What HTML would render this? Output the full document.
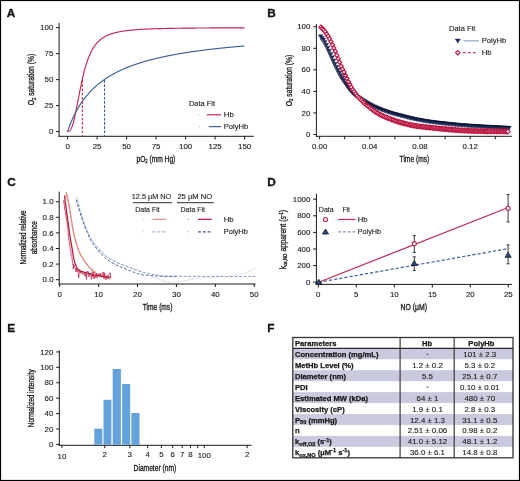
<!DOCTYPE html>
<html><head><meta charset="utf-8"><style>
html,body{margin:0;padding:0;background:#fff;}
svg{display:block;will-change:transform;}
text{font-family:"Liberation Sans",sans-serif;fill:#1a1a1a;stroke:#1a1a1a;stroke-width:0.12px;}
.at{stroke:#1a1a1a;stroke-width:0.32px;}
.tb{stroke:#111;stroke-width:0.25px;}
.tk{stroke:#1a1a1a;stroke-width:0.12px;}
</style></head><body>
<svg width="520" height="481" viewBox="0 0 520 481">
<rect x="0" y="0" width="520" height="481" fill="#fff"/>
<text x="6.80" y="16.60" font-size="11.8" text-anchor="start" font-weight="bold" fill="#000" style="stroke:#000;stroke-width:0.3px">A</text>
<text x="267.30" y="16.50" font-size="11.8" text-anchor="start" font-weight="bold" fill="#000" style="stroke:#000;stroke-width:0.3px">B</text>
<text x="7.30" y="185.80" font-size="11.8" text-anchor="start" font-weight="bold" fill="#000" style="stroke:#000;stroke-width:0.3px">C</text>
<text x="267.30" y="185.80" font-size="11.8" text-anchor="start" font-weight="bold" fill="#000" style="stroke:#000;stroke-width:0.3px">D</text>
<text x="7.30" y="331.80" font-size="11.8" text-anchor="start" font-weight="bold" fill="#000" style="stroke:#000;stroke-width:0.3px">E</text>
<text x="267.30" y="332.10" font-size="11.8" text-anchor="start" font-weight="bold" fill="#000" style="stroke:#000;stroke-width:0.3px">F</text>
<line x1="59.10" y1="22.90" x2="59.10" y2="136.80" stroke="#1a1a1a" stroke-width="1" />
<line x1="58.60" y1="136.30" x2="253.80" y2="136.30" stroke="#1a1a1a" stroke-width="1" />
<line x1="56.00" y1="131.60" x2="59.10" y2="131.60" stroke="#1a1a1a" stroke-width="1" />
<text x="53.40" y="134.20" font-size="7.9" text-anchor="end" class="tk">0</text>
<line x1="56.00" y1="105.60" x2="59.10" y2="105.60" stroke="#1a1a1a" stroke-width="1" />
<text x="53.40" y="108.20" font-size="7.9" text-anchor="end" class="tk">25</text>
<line x1="56.00" y1="79.60" x2="59.10" y2="79.60" stroke="#1a1a1a" stroke-width="1" />
<text x="53.40" y="82.20" font-size="7.9" text-anchor="end" class="tk">50</text>
<line x1="56.00" y1="53.60" x2="59.10" y2="53.60" stroke="#1a1a1a" stroke-width="1" />
<text x="53.40" y="56.20" font-size="7.9" text-anchor="end" class="tk">75</text>
<line x1="56.00" y1="27.60" x2="59.10" y2="27.60" stroke="#1a1a1a" stroke-width="1" />
<text x="53.40" y="30.20" font-size="7.9" text-anchor="end" class="tk">100</text>
<line x1="67.60" y1="136.30" x2="67.60" y2="139.50" stroke="#1a1a1a" stroke-width="1" />
<text x="67.60" y="149.20" font-size="7.9" text-anchor="middle" class="tk">0</text>
<line x1="97.10" y1="136.30" x2="97.10" y2="139.50" stroke="#1a1a1a" stroke-width="1" />
<text x="97.10" y="149.20" font-size="7.9" text-anchor="middle" class="tk">25</text>
<line x1="126.60" y1="136.30" x2="126.60" y2="139.50" stroke="#1a1a1a" stroke-width="1" />
<text x="126.60" y="149.20" font-size="7.9" text-anchor="middle" class="tk">50</text>
<line x1="156.10" y1="136.30" x2="156.10" y2="139.50" stroke="#1a1a1a" stroke-width="1" />
<text x="156.10" y="149.20" font-size="7.9" text-anchor="middle" class="tk">75</text>
<line x1="185.60" y1="136.30" x2="185.60" y2="139.50" stroke="#1a1a1a" stroke-width="1" />
<text x="185.60" y="149.20" font-size="7.9" text-anchor="middle" class="tk">100</text>
<line x1="215.10" y1="136.30" x2="215.10" y2="139.50" stroke="#1a1a1a" stroke-width="1" />
<text x="215.10" y="149.20" font-size="7.9" text-anchor="middle" class="tk">125</text>
<line x1="244.60" y1="136.30" x2="244.60" y2="139.50" stroke="#1a1a1a" stroke-width="1" />
<text x="244.60" y="149.20" font-size="7.9" text-anchor="middle" class="tk">150</text>
<path d="M67.60,131.60 L67.89,131.59 L68.19,131.57 L68.48,131.51 L68.78,131.41 L69.07,131.27 L69.37,131.08 L69.66,130.84 L69.96,130.54 L70.25,130.19 L70.55,129.76 L70.84,129.28 L71.14,128.73 L71.43,128.11 L71.73,127.43 L72.02,126.68 L72.32,125.86 L72.61,124.97 L72.91,124.03 L73.20,123.02 L73.50,121.95 L73.79,120.82 L74.09,119.64 L74.38,118.41 L74.68,117.13 L74.97,115.80 L75.27,114.44 L75.56,113.03 L75.86,111.60 L76.16,110.14 L76.45,108.65 L76.74,107.15 L77.04,105.63 L77.33,104.09 L77.63,102.55 L77.92,101.00 L78.22,99.45 L78.51,97.91 L78.81,96.37 L79.10,94.83 L79.40,93.31 L79.69,91.80 L79.99,90.30 L80.28,88.82 L80.58,87.36 L80.88,85.92 L81.17,84.50 L81.46,83.11 L81.76,81.74 L82.05,80.39 L82.35,79.08 L82.64,77.78 L82.94,76.52 L83.23,75.28 L83.53,74.07 L83.82,72.89 L84.12,71.74 L84.41,70.62 L84.71,69.52 L85.00,68.45 L85.30,67.41 L85.59,66.39 L85.89,65.41 L86.18,64.45 L86.48,63.51 L86.77,62.60 L87.07,61.72 L87.36,60.86 L87.66,60.02 L87.95,59.21 L88.25,58.42 L88.54,57.65 L88.84,56.91 L89.13,56.19 L89.43,55.48 L89.72,54.80 L90.02,54.14 L90.31,53.50 L90.61,52.87 L90.91,52.26 L91.20,51.68 L91.49,51.10 L91.79,50.55 L92.08,50.01 L92.38,49.48 L92.67,48.98 L92.97,48.48 L93.26,48.00 L93.56,47.54 L93.85,47.08 L94.15,46.64 L94.44,46.21 L94.74,45.80 L95.03,45.40 L95.33,45.00 L95.62,44.62 L95.92,44.25 L96.21,43.89 L96.51,43.54 L96.80,43.20 L97.10,42.87 L97.39,42.54 L97.69,42.23 L97.98,41.93 L98.28,41.63 L98.57,41.34 L98.87,41.06 L99.16,40.78 L99.46,40.52 L99.75,40.26 L100.05,40.01 L100.34,39.76 L100.64,39.52 L100.94,39.29 L101.23,39.06 L101.52,38.84 L101.82,38.62 L102.11,38.41 L102.41,38.21 L102.70,38.01 L103.00,37.81 L103.29,37.62 L103.59,37.44 L103.88,37.25 L104.18,37.08 L104.47,36.91 L104.77,36.74 L105.06,36.57 L105.36,36.41 L105.66,36.26 L105.95,36.10 L106.24,35.96 L106.54,35.81 L106.83,35.67 L107.13,35.53 L107.42,35.39 L107.72,35.26 L108.01,35.13 L108.31,35.00 L108.60,34.88 L108.90,34.76 L109.19,34.64 L109.49,34.53 L109.78,34.41 L110.08,34.30 L110.38,34.19 L110.67,34.09 L110.96,33.99 L111.26,33.88 L111.55,33.79 L111.85,33.69 L112.14,33.59 L112.44,33.50 L112.73,33.41 L113.03,33.32 L113.32,33.23 L113.62,33.15 L113.91,33.06 L114.21,32.98 L114.50,32.90 L114.80,32.82 L115.09,32.75 L115.39,32.67 L115.69,32.60 L115.98,32.52 L116.27,32.45 L116.57,32.38 L116.86,32.32 L117.16,32.25 L117.45,32.18 L117.75,32.12 L118.04,32.06 L118.34,31.99 L118.63,31.93 L118.93,31.87 L119.22,31.81 L119.52,31.76 L119.81,31.70 L120.11,31.64 L120.41,31.59 L120.70,31.54 L120.99,31.48 L121.29,31.43 L121.58,31.38 L121.88,31.33 L122.17,31.28 L122.47,31.24 L122.76,31.19 L123.06,31.14 L123.35,31.10 L123.65,31.05 L123.94,31.01 L124.24,30.97 L124.53,30.93 L124.83,30.88 L125.12,30.84 L125.42,30.80 L125.71,30.76 L126.01,30.72 L126.30,30.69 L126.60,30.65 L126.89,30.61 L127.19,30.58 L127.48,30.54 L127.78,30.51 L128.07,30.47 L128.37,30.44 L128.66,30.40 L128.96,30.37 L129.25,30.34 L129.55,30.31 L129.84,30.28 L130.14,30.24 L130.44,30.21 L130.73,30.18 L131.02,30.16 L131.32,30.13 L131.62,30.10 L131.91,30.07 L132.20,30.04 L132.50,30.02 L132.79,29.99 L133.09,29.96 L133.38,29.94 L133.68,29.91 L133.97,29.89 L134.27,29.86 L134.56,29.84 L134.86,29.81 L135.15,29.79 L135.45,29.77 L135.75,29.74 L136.04,29.72 L136.33,29.70 L136.63,29.68 L136.93,29.65 L137.22,29.63 L137.51,29.61 L137.81,29.59 L138.10,29.57 L138.40,29.55 L138.69,29.53 L138.99,29.51 L139.28,29.49 L139.58,29.47 L139.88,29.45 L140.17,29.44 L140.46,29.42 L140.76,29.40 L141.06,29.38 L141.35,29.36 L141.64,29.35 L141.94,29.33 L142.23,29.31 L142.53,29.30 L142.82,29.28 L143.12,29.26 L143.41,29.25 L143.71,29.23 L144.00,29.22 L144.30,29.20 L144.59,29.19 L144.89,29.17 L145.19,29.16 L145.48,29.14 L145.77,29.13 L146.07,29.11 L146.37,29.10 L146.66,29.09 L146.95,29.07 L147.25,29.06 L147.54,29.04 L147.84,29.03 L148.13,29.02 L148.43,29.01 L148.72,28.99 L149.02,28.98 L149.31,28.97 L149.61,28.96 L149.90,28.94 L150.20,28.93 L150.50,28.92 L150.79,28.91 L151.08,28.90 L151.38,28.89 L151.67,28.88 L151.97,28.86 L152.26,28.85 L152.56,28.84 L152.85,28.83 L153.15,28.82 L153.44,28.81 L153.74,28.80 L154.03,28.79 L154.33,28.78 L154.62,28.77 L154.92,28.76 L155.21,28.75 L155.51,28.74 L155.81,28.73 L156.10,28.72 L156.39,28.71 L156.69,28.70 L156.98,28.70 L157.28,28.69 L157.57,28.68 L157.87,28.67 L158.16,28.66 L158.46,28.65 L158.75,28.64 L159.05,28.64 L159.34,28.63 L159.64,28.62 L159.94,28.61 L160.23,28.60 L160.52,28.59 L160.82,28.59 L161.12,28.58 L161.41,28.57 L161.70,28.56 L162.00,28.56 L162.29,28.55 L162.59,28.54 L162.88,28.53 L163.18,28.53 L163.47,28.52 L163.77,28.51 L164.06,28.51 L164.36,28.50 L164.65,28.49 L164.95,28.49 L165.25,28.48 L165.54,28.47 L165.83,28.47 L166.13,28.46 L166.42,28.45 L166.72,28.45 L167.01,28.44 L167.31,28.43 L167.60,28.43 L167.90,28.42 L168.19,28.42 L168.49,28.41 L168.78,28.40 L169.08,28.40 L169.38,28.39 L169.67,28.39 L169.96,28.38 L170.26,28.38 L170.56,28.37 L170.85,28.37 L171.14,28.36 L171.44,28.35 L171.73,28.35 L172.03,28.34 L172.32,28.34 L172.62,28.33 L172.91,28.33 L173.21,28.32 L173.50,28.32 L173.80,28.31 L174.09,28.31 L174.39,28.30 L174.69,28.30 L174.98,28.29 L175.27,28.29 L175.57,28.28 L175.87,28.28 L176.16,28.28 L176.45,28.27 L176.75,28.27 L177.04,28.26 L177.34,28.26 L177.63,28.25 L177.93,28.25 L178.22,28.24 L178.52,28.24 L178.81,28.24 L179.11,28.23 L179.40,28.23 L179.70,28.22 L180.00,28.22 L180.29,28.22 L180.58,28.21 L180.88,28.21 L181.17,28.20 L181.47,28.20 L181.76,28.20 L182.06,28.19 L182.35,28.19 L182.65,28.18 L182.94,28.18 L183.24,28.18 L183.53,28.17 L183.83,28.17 L184.12,28.17 L184.42,28.16 L184.71,28.16 L185.01,28.16 L185.31,28.15 L185.60,28.15 L185.89,28.15 L186.19,28.14 L186.48,28.14 L186.78,28.14 L187.07,28.13 L187.37,28.13 L187.66,28.13 L187.96,28.12 L188.25,28.12 L188.55,28.12 L188.84,28.11 L189.14,28.11 L189.44,28.11 L189.73,28.10 L190.02,28.10 L190.32,28.10 L190.62,28.09 L190.91,28.09 L191.20,28.09 L191.50,28.09 L191.79,28.08 L192.09,28.08 L192.38,28.08 L192.68,28.07 L192.97,28.07 L193.27,28.07 L193.56,28.07 L193.86,28.06 L194.15,28.06 L194.45,28.06 L194.75,28.06 L195.04,28.05 L195.33,28.05 L195.63,28.05 L195.92,28.04 L196.22,28.04 L196.51,28.04 L196.81,28.04 L197.10,28.03 L197.40,28.03 L197.69,28.03 L197.99,28.03 L198.28,28.03 L198.58,28.02 L198.88,28.02 L199.17,28.02 L199.46,28.02 L199.76,28.01 L200.05,28.01 L200.35,28.01 L200.64,28.01 L200.94,28.00 L201.23,28.00 L201.53,28.00 L201.82,28.00 L202.12,28.00 L202.41,27.99 L202.71,27.99 L203.00,27.99 L203.30,27.99 L203.59,27.98 L203.89,27.98 L204.18,27.98 L204.48,27.98 L204.77,27.98 L205.07,27.97 L205.36,27.97 L205.66,27.97 L205.95,27.97 L206.25,27.97 L206.54,27.96 L206.84,27.96 L207.13,27.96 L207.43,27.96 L207.72,27.96 L208.02,27.96 L208.31,27.95 L208.61,27.95 L208.90,27.95 L209.20,27.95 L209.49,27.95 L209.79,27.94 L210.08,27.94 L210.38,27.94 L210.67,27.94 L210.97,27.94 L211.26,27.94 L211.56,27.93 L211.85,27.93 L212.15,27.93 L212.44,27.93 L212.74,27.93 L213.03,27.93 L213.33,27.92 L213.62,27.92 L213.92,27.92 L214.21,27.92 L214.51,27.92 L214.80,27.92 L215.10,27.91 L215.39,27.91 L215.69,27.91 L215.98,27.91 L216.28,27.91 L216.57,27.91 L216.87,27.90 L217.16,27.90 L217.46,27.90 L217.75,27.90 L218.05,27.90 L218.34,27.90 L218.64,27.90 L218.93,27.89 L219.23,27.89 L219.52,27.89 L219.82,27.89 L220.11,27.89 L220.41,27.89 L220.70,27.89 L221.00,27.88 L221.29,27.88 L221.59,27.88 L221.88,27.88 L222.18,27.88 L222.47,27.88 L222.77,27.88 L223.06,27.88 L223.36,27.87 L223.65,27.87 L223.95,27.87 L224.24,27.87 L224.54,27.87 L224.83,27.87 L225.13,27.87 L225.42,27.87 L225.72,27.86 L226.01,27.86 L226.31,27.86 L226.60,27.86 L226.90,27.86 L227.19,27.86 L227.49,27.86 L227.78,27.86 L228.08,27.85 L228.38,27.85 L228.67,27.85 L228.96,27.85 L229.26,27.85 L229.55,27.85 L229.85,27.85 L230.14,27.85 L230.44,27.85 L230.73,27.84 L231.03,27.84 L231.32,27.84 L231.62,27.84 L231.91,27.84 L232.21,27.84 L232.50,27.84 L232.80,27.84 L233.09,27.84 L233.39,27.83 L233.68,27.83 L233.98,27.83 L234.27,27.83 L234.57,27.83 L234.86,27.83 L235.16,27.83 L235.45,27.83 L235.75,27.83 L236.04,27.83 L236.34,27.82 L236.63,27.82 L236.93,27.82 L237.22,27.82 L237.52,27.82 L237.81,27.82 L238.11,27.82 L238.40,27.82 L238.70,27.82 L238.99,27.82 L239.29,27.81 L239.58,27.81 L239.88,27.81 L240.17,27.81 L240.47,27.81 L240.76,27.81 L241.06,27.81 L241.35,27.81 L241.65,27.81 L241.94,27.81 L242.24,27.81 L242.53,27.80 L242.83,27.80 L243.12,27.80 L243.42,27.80 L243.71,27.80 L244.01,27.80 L244.30,27.80 L244.60,27.80" stroke="#c0284e" stroke-width="1.15" fill="none" />
<path d="M67.60,131.60 L67.89,130.69 L68.19,129.82 L68.48,128.97 L68.78,128.14 L69.07,127.33 L69.37,126.53 L69.66,125.75 L69.96,124.98 L70.25,124.23 L70.55,123.49 L70.84,122.77 L71.14,122.05 L71.43,121.35 L71.73,120.66 L72.02,119.98 L72.32,119.31 L72.61,118.65 L72.91,118.00 L73.20,117.36 L73.50,116.74 L73.79,116.12 L74.09,115.51 L74.38,114.90 L74.68,114.31 L74.97,113.73 L75.27,113.15 L75.56,112.58 L75.86,112.02 L76.16,111.47 L76.45,110.93 L76.74,110.39 L77.04,109.86 L77.33,109.33 L77.63,108.82 L77.92,108.31 L78.22,107.81 L78.51,107.31 L78.81,106.82 L79.10,106.34 L79.40,105.86 L79.69,105.39 L79.99,104.92 L80.28,104.46 L80.58,104.01 L80.88,103.56 L81.17,103.12 L81.46,102.68 L81.76,102.24 L82.05,101.82 L82.35,101.39 L82.64,100.98 L82.94,100.56 L83.23,100.16 L83.53,99.75 L83.82,99.35 L84.12,98.96 L84.41,98.57 L84.71,98.18 L85.00,97.80 L85.30,97.43 L85.59,97.05 L85.89,96.69 L86.18,96.32 L86.48,95.96 L86.77,95.60 L87.07,95.25 L87.36,94.90 L87.66,94.56 L87.95,94.21 L88.25,93.88 L88.54,93.54 L88.84,93.21 L89.13,92.88 L89.43,92.56 L89.72,92.24 L90.02,91.92 L90.31,91.60 L90.61,91.29 L90.91,90.98 L91.20,90.68 L91.49,90.37 L91.79,90.07 L92.08,89.78 L92.38,89.48 L92.67,89.19 L92.97,88.90 L93.26,88.62 L93.56,88.34 L93.85,88.06 L94.15,87.78 L94.44,87.50 L94.74,87.23 L95.03,86.96 L95.33,86.70 L95.62,86.43 L95.92,86.17 L96.21,85.91 L96.51,85.65 L96.80,85.40 L97.10,85.14 L97.39,84.89 L97.69,84.64 L97.98,84.40 L98.28,84.15 L98.57,83.91 L98.87,83.67 L99.16,83.43 L99.46,83.20 L99.75,82.96 L100.05,82.73 L100.34,82.50 L100.64,82.27 L100.94,82.05 L101.23,81.82 L101.52,81.60 L101.82,81.38 L102.11,81.16 L102.41,80.95 L102.70,80.73 L103.00,80.52 L103.29,80.31 L103.59,80.10 L103.88,79.89 L104.18,79.68 L104.47,79.48 L104.77,79.27 L105.06,79.07 L105.36,78.87 L105.66,78.67 L105.95,78.48 L106.24,78.28 L106.54,78.09 L106.83,77.90 L107.13,77.71 L107.42,77.52 L107.72,77.33 L108.01,77.14 L108.31,76.96 L108.60,76.78 L108.90,76.59 L109.19,76.41 L109.49,76.23 L109.78,76.06 L110.08,75.88 L110.38,75.70 L110.67,75.53 L110.96,75.36 L111.26,75.18 L111.55,75.01 L111.85,74.85 L112.14,74.68 L112.44,74.51 L112.73,74.35 L113.03,74.18 L113.32,74.02 L113.62,73.86 L113.91,73.70 L114.21,73.54 L114.50,73.38 L114.80,73.22 L115.09,73.06 L115.39,72.91 L115.69,72.75 L115.98,72.60 L116.27,72.45 L116.57,72.30 L116.86,72.15 L117.16,72.00 L117.45,71.85 L117.75,71.70 L118.04,71.56 L118.34,71.41 L118.63,71.27 L118.93,71.13 L119.22,70.98 L119.52,70.84 L119.81,70.70 L120.11,70.56 L120.41,70.43 L120.70,70.29 L120.99,70.15 L121.29,70.02 L121.58,69.88 L121.88,69.75 L122.17,69.61 L122.47,69.48 L122.76,69.35 L123.06,69.22 L123.35,69.09 L123.65,68.96 L123.94,68.83 L124.24,68.71 L124.53,68.58 L124.83,68.45 L125.12,68.33 L125.42,68.20 L125.71,68.08 L126.01,67.96 L126.30,67.84 L126.60,67.72 L126.89,67.60 L127.19,67.48 L127.48,67.36 L127.78,67.24 L128.07,67.12 L128.37,67.00 L128.66,66.89 L128.96,66.77 L129.25,66.66 L129.55,66.54 L129.84,66.43 L130.14,66.32 L130.44,66.21 L130.73,66.09 L131.02,65.98 L131.32,65.87 L131.62,65.76 L131.91,65.66 L132.20,65.55 L132.50,65.44 L132.79,65.33 L133.09,65.23 L133.38,65.12 L133.68,65.02 L133.97,64.91 L134.27,64.81 L134.56,64.70 L134.86,64.60 L135.15,64.50 L135.45,64.40 L135.75,64.30 L136.04,64.20 L136.33,64.10 L136.63,64.00 L136.93,63.90 L137.22,63.80 L137.51,63.70 L137.81,63.60 L138.10,63.51 L138.40,63.41 L138.69,63.32 L138.99,63.22 L139.28,63.13 L139.58,63.03 L139.88,62.94 L140.17,62.85 L140.46,62.75 L140.76,62.66 L141.06,62.57 L141.35,62.48 L141.64,62.39 L141.94,62.30 L142.23,62.21 L142.53,62.12 L142.82,62.03 L143.12,61.94 L143.41,61.85 L143.71,61.77 L144.00,61.68 L144.30,61.59 L144.59,61.51 L144.89,61.42 L145.19,61.34 L145.48,61.25 L145.77,61.17 L146.07,61.08 L146.37,61.00 L146.66,60.92 L146.95,60.83 L147.25,60.75 L147.54,60.67 L147.84,60.59 L148.13,60.51 L148.43,60.43 L148.72,60.35 L149.02,60.27 L149.31,60.19 L149.61,60.11 L149.90,60.03 L150.20,59.95 L150.50,59.87 L150.79,59.80 L151.08,59.72 L151.38,59.64 L151.67,59.57 L151.97,59.49 L152.26,59.42 L152.56,59.34 L152.85,59.27 L153.15,59.19 L153.44,59.12 L153.74,59.04 L154.03,58.97 L154.33,58.90 L154.62,58.82 L154.92,58.75 L155.21,58.68 L155.51,58.61 L155.81,58.54 L156.10,58.47 L156.39,58.39 L156.69,58.32 L156.98,58.25 L157.28,58.18 L157.57,58.11 L157.87,58.05 L158.16,57.98 L158.46,57.91 L158.75,57.84 L159.05,57.77 L159.34,57.70 L159.64,57.64 L159.94,57.57 L160.23,57.50 L160.52,57.44 L160.82,57.37 L161.12,57.31 L161.41,57.24 L161.70,57.18 L162.00,57.11 L162.29,57.05 L162.59,56.98 L162.88,56.92 L163.18,56.85 L163.47,56.79 L163.77,56.73 L164.06,56.66 L164.36,56.60 L164.65,56.54 L164.95,56.48 L165.25,56.42 L165.54,56.35 L165.83,56.29 L166.13,56.23 L166.42,56.17 L166.72,56.11 L167.01,56.05 L167.31,55.99 L167.60,55.93 L167.90,55.87 L168.19,55.81 L168.49,55.75 L168.78,55.69 L169.08,55.64 L169.38,55.58 L169.67,55.52 L169.96,55.46 L170.26,55.40 L170.56,55.35 L170.85,55.29 L171.14,55.23 L171.44,55.18 L171.73,55.12 L172.03,55.06 L172.32,55.01 L172.62,54.95 L172.91,54.90 L173.21,54.84 L173.50,54.79 L173.80,54.73 L174.09,54.68 L174.39,54.62 L174.69,54.57 L174.98,54.52 L175.27,54.46 L175.57,54.41 L175.87,54.36 L176.16,54.30 L176.45,54.25 L176.75,54.20 L177.04,54.15 L177.34,54.09 L177.63,54.04 L177.93,53.99 L178.22,53.94 L178.52,53.89 L178.81,53.84 L179.11,53.78 L179.40,53.73 L179.70,53.68 L180.00,53.63 L180.29,53.58 L180.58,53.53 L180.88,53.48 L181.17,53.43 L181.47,53.38 L181.76,53.34 L182.06,53.29 L182.35,53.24 L182.65,53.19 L182.94,53.14 L183.24,53.09 L183.53,53.04 L183.83,53.00 L184.12,52.95 L184.42,52.90 L184.71,52.85 L185.01,52.81 L185.31,52.76 L185.60,52.71 L185.89,52.67 L186.19,52.62 L186.48,52.57 L186.78,52.53 L187.07,52.48 L187.37,52.44 L187.66,52.39 L187.96,52.35 L188.25,52.30 L188.55,52.26 L188.84,52.21 L189.14,52.17 L189.44,52.12 L189.73,52.08 L190.02,52.03 L190.32,51.99 L190.62,51.94 L190.91,51.90 L191.20,51.86 L191.50,51.81 L191.79,51.77 L192.09,51.73 L192.38,51.68 L192.68,51.64 L192.97,51.60 L193.27,51.56 L193.56,51.51 L193.86,51.47 L194.15,51.43 L194.45,51.39 L194.75,51.35 L195.04,51.30 L195.33,51.26 L195.63,51.22 L195.92,51.18 L196.22,51.14 L196.51,51.10 L196.81,51.06 L197.10,51.02 L197.40,50.98 L197.69,50.94 L197.99,50.90 L198.28,50.86 L198.58,50.82 L198.88,50.78 L199.17,50.74 L199.46,50.70 L199.76,50.66 L200.05,50.62 L200.35,50.58 L200.64,50.54 L200.94,50.50 L201.23,50.46 L201.53,50.43 L201.82,50.39 L202.12,50.35 L202.41,50.31 L202.71,50.27 L203.00,50.24 L203.30,50.20 L203.59,50.16 L203.89,50.12 L204.18,50.08 L204.48,50.05 L204.77,50.01 L205.07,49.97 L205.36,49.94 L205.66,49.90 L205.95,49.86 L206.25,49.83 L206.54,49.79 L206.84,49.75 L207.13,49.72 L207.43,49.68 L207.72,49.65 L208.02,49.61 L208.31,49.57 L208.61,49.54 L208.90,49.50 L209.20,49.47 L209.49,49.43 L209.79,49.40 L210.08,49.36 L210.38,49.33 L210.67,49.29 L210.97,49.26 L211.26,49.22 L211.56,49.19 L211.85,49.16 L212.15,49.12 L212.44,49.09 L212.74,49.05 L213.03,49.02 L213.33,48.99 L213.62,48.95 L213.92,48.92 L214.21,48.89 L214.51,48.85 L214.80,48.82 L215.10,48.79 L215.39,48.75 L215.69,48.72 L215.98,48.69 L216.28,48.65 L216.57,48.62 L216.87,48.59 L217.16,48.56 L217.46,48.52 L217.75,48.49 L218.05,48.46 L218.34,48.43 L218.64,48.40 L218.93,48.36 L219.23,48.33 L219.52,48.30 L219.82,48.27 L220.11,48.24 L220.41,48.21 L220.70,48.18 L221.00,48.14 L221.29,48.11 L221.59,48.08 L221.88,48.05 L222.18,48.02 L222.47,47.99 L222.77,47.96 L223.06,47.93 L223.36,47.90 L223.65,47.87 L223.95,47.84 L224.24,47.81 L224.54,47.78 L224.83,47.75 L225.13,47.72 L225.42,47.69 L225.72,47.66 L226.01,47.63 L226.31,47.60 L226.60,47.57 L226.90,47.54 L227.19,47.51 L227.49,47.48 L227.78,47.45 L228.08,47.43 L228.38,47.40 L228.67,47.37 L228.96,47.34 L229.26,47.31 L229.55,47.28 L229.85,47.25 L230.14,47.22 L230.44,47.20 L230.73,47.17 L231.03,47.14 L231.32,47.11 L231.62,47.08 L231.91,47.06 L232.21,47.03 L232.50,47.00 L232.80,46.97 L233.09,46.95 L233.39,46.92 L233.68,46.89 L233.98,46.86 L234.27,46.84 L234.57,46.81 L234.86,46.78 L235.16,46.76 L235.45,46.73 L235.75,46.70 L236.04,46.67 L236.34,46.65 L236.63,46.62 L236.93,46.59 L237.22,46.57 L237.52,46.54 L237.81,46.52 L238.11,46.49 L238.40,46.46 L238.70,46.44 L238.99,46.41 L239.29,46.39 L239.58,46.36 L239.88,46.33 L240.17,46.31 L240.47,46.28 L240.76,46.26 L241.06,46.23 L241.35,46.21 L241.65,46.18 L241.94,46.15 L242.24,46.13 L242.53,46.10 L242.83,46.08 L243.12,46.05 L243.42,46.03 L243.71,46.00 L244.01,45.98 L244.30,45.95 L244.60,45.93" stroke="#3b5d9a" stroke-width="1.15" fill="none" />
<line x1="82.35" y1="80.10" x2="82.35" y2="135.80" stroke="#c0284e" stroke-width="1.1" stroke-dasharray="2.6,1.6"/>
<line x1="104.53" y1="80.10" x2="104.53" y2="135.80" stroke="#3b5d9a" stroke-width="1.1" stroke-dasharray="2.6,1.6"/>
<text x="189.00" y="105.80" font-size="7.9" text-anchor="start" textLength="26" lengthAdjust="spacingAndGlyphs" >Data Fit</text>
<circle cx="199.6" cy="114.8" r="0.55" fill="#e8a0b0"/>
<line x1="206.90" y1="114.80" x2="221.00" y2="114.80" stroke="#c0284e" stroke-width="1.2" />
<text x="223.80" y="117.00" font-size="7.9" text-anchor="start" textLength="10" lengthAdjust="spacingAndGlyphs" >Hb</text>
<circle cx="199.6" cy="126.6" r="0.55" fill="#7f95c0"/>
<line x1="208.90" y1="126.60" x2="221.00" y2="126.60" stroke="#3b5d9a" stroke-width="1.2" />
<text x="223.80" y="128.80" font-size="7.9" text-anchor="start" textLength="24.4" lengthAdjust="spacingAndGlyphs" >PolyHb</text>
<text class="at" x="136.5" y="161.6" font-size="8.8" textLength="38.8" lengthAdjust="spacingAndGlyphs" fill="#1a1a1a">pO<tspan font-size="5.6" dy="1.6">2</tspan><tspan dy="-1.6"> (mm Hg)</tspan></text>
<text class="at" x="0" y="0" font-size="8.8" fill="#1a1a1a" textLength="51.5" lengthAdjust="spacingAndGlyphs" transform="translate(34.3,105.3) rotate(-90)">O<tspan font-size="5.6" dy="1.6">2</tspan><tspan dy="-1.6"> saturation (%)</tspan></text>
<line x1="316.40" y1="24.00" x2="316.40" y2="136.80" stroke="#1a1a1a" stroke-width="1" />
<line x1="315.90" y1="136.30" x2="511.80" y2="136.30" stroke="#1a1a1a" stroke-width="1" />
<line x1="313.30" y1="134.50" x2="316.40" y2="134.50" stroke="#1a1a1a" stroke-width="1" />
<text x="310.40" y="137.10" font-size="7.9" text-anchor="end" class="tk">0</text>
<line x1="313.30" y1="112.95" x2="316.40" y2="112.95" stroke="#1a1a1a" stroke-width="1" />
<text x="310.40" y="115.55" font-size="7.9" text-anchor="end" class="tk">20</text>
<line x1="313.30" y1="91.40" x2="316.40" y2="91.40" stroke="#1a1a1a" stroke-width="1" />
<text x="310.40" y="94.00" font-size="7.9" text-anchor="end" class="tk">40</text>
<line x1="313.30" y1="69.85" x2="316.40" y2="69.85" stroke="#1a1a1a" stroke-width="1" />
<text x="310.40" y="72.45" font-size="7.9" text-anchor="end" class="tk">60</text>
<line x1="313.30" y1="48.30" x2="316.40" y2="48.30" stroke="#1a1a1a" stroke-width="1" />
<text x="310.40" y="50.90" font-size="7.9" text-anchor="end" class="tk">80</text>
<line x1="313.30" y1="26.75" x2="316.40" y2="26.75" stroke="#1a1a1a" stroke-width="1" />
<text x="310.40" y="29.35" font-size="7.9" text-anchor="end" class="tk">100</text>
<line x1="319.60" y1="136.30" x2="319.60" y2="139.30" stroke="#1a1a1a" stroke-width="1" />
<text x="319.60" y="149.20" font-size="7.9" text-anchor="middle" class="tk">0.00</text>
<line x1="344.70" y1="136.30" x2="344.70" y2="139.30" stroke="#1a1a1a" stroke-width="1" />
<line x1="369.80" y1="136.30" x2="369.80" y2="139.30" stroke="#1a1a1a" stroke-width="1" />
<text x="369.80" y="149.20" font-size="7.9" text-anchor="middle" class="tk">0.04</text>
<line x1="394.90" y1="136.30" x2="394.90" y2="139.30" stroke="#1a1a1a" stroke-width="1" />
<line x1="420.00" y1="136.30" x2="420.00" y2="139.30" stroke="#1a1a1a" stroke-width="1" />
<text x="420.00" y="149.20" font-size="7.9" text-anchor="middle" class="tk">0.08</text>
<line x1="445.10" y1="136.30" x2="445.10" y2="139.30" stroke="#1a1a1a" stroke-width="1" />
<line x1="470.20" y1="136.30" x2="470.20" y2="139.30" stroke="#1a1a1a" stroke-width="1" />
<text x="470.20" y="149.20" font-size="7.9" text-anchor="middle" class="tk">0.12</text>
<line x1="495.30" y1="136.30" x2="495.30" y2="139.30" stroke="#1a1a1a" stroke-width="1" />
<text x="399.60" y="162.00" font-size="8.7" text-anchor="start" textLength="29.6" lengthAdjust="spacingAndGlyphs" class="at">Time (ms)</text>
<text class="at" x="0" y="0" font-size="8.8" fill="#1a1a1a" textLength="51.5" lengthAdjust="spacingAndGlyphs" transform="translate(291.6,106.2) rotate(-90)">O<tspan font-size="5.6" dy="1.6">2</tspan><tspan dy="-1.6"> saturation (%)</tspan></text>
<path d="M318.40,34.80 L322.80,34.80 L320.60,38.50 Z" fill="#1b2f63" stroke="#101a3a" stroke-width="0.4"/>
<path d="M319.85,36.38 L324.25,36.38 L322.05,40.08 Z" fill="#1b2f63" stroke="#101a3a" stroke-width="0.4"/>
<path d="M321.30,38.09 L325.70,38.09 L323.50,41.79 Z" fill="#1b2f63" stroke="#101a3a" stroke-width="0.4"/>
<path d="M322.75,40.38 L327.15,40.38 L324.95,44.08 Z" fill="#1b2f63" stroke="#101a3a" stroke-width="0.4"/>
<path d="M324.20,43.19 L328.60,43.19 L326.40,46.89 Z" fill="#1b2f63" stroke="#101a3a" stroke-width="0.4"/>
<path d="M325.65,46.17 L330.05,46.17 L327.85,49.87 Z" fill="#1b2f63" stroke="#101a3a" stroke-width="0.4"/>
<path d="M327.10,49.29 L331.50,49.29 L329.30,52.99 Z" fill="#1b2f63" stroke="#101a3a" stroke-width="0.4"/>
<path d="M328.55,52.54 L332.95,52.54 L330.75,56.24 Z" fill="#1b2f63" stroke="#101a3a" stroke-width="0.4"/>
<path d="M330.00,55.82 L334.40,55.82 L332.20,59.52 Z" fill="#1b2f63" stroke="#101a3a" stroke-width="0.4"/>
<path d="M331.45,59.11 L335.85,59.11 L333.65,62.81 Z" fill="#1b2f63" stroke="#101a3a" stroke-width="0.4"/>
<path d="M332.90,62.25 L337.30,62.25 L335.10,65.95 Z" fill="#1b2f63" stroke="#101a3a" stroke-width="0.4"/>
<path d="M334.35,65.32 L338.75,65.32 L336.55,69.02 Z" fill="#1b2f63" stroke="#101a3a" stroke-width="0.4"/>
<path d="M335.80,68.29 L340.20,68.29 L338.00,71.99 Z" fill="#1b2f63" stroke="#101a3a" stroke-width="0.4"/>
<path d="M337.25,71.09 L341.65,71.09 L339.45,74.79 Z" fill="#1b2f63" stroke="#101a3a" stroke-width="0.4"/>
<path d="M338.70,73.72 L343.10,73.72 L340.90,77.42 Z" fill="#1b2f63" stroke="#101a3a" stroke-width="0.4"/>
<path d="M340.15,76.22 L344.55,76.22 L342.35,79.92 Z" fill="#1b2f63" stroke="#101a3a" stroke-width="0.4"/>
<path d="M341.60,78.61 L346.00,78.61 L343.80,82.31 Z" fill="#1b2f63" stroke="#101a3a" stroke-width="0.4"/>
<path d="M343.05,80.90 L347.45,80.90 L345.25,84.60 Z" fill="#1b2f63" stroke="#101a3a" stroke-width="0.4"/>
<path d="M344.50,83.12 L348.90,83.12 L346.70,86.82 Z" fill="#1b2f63" stroke="#101a3a" stroke-width="0.4"/>
<path d="M345.95,85.28 L350.35,85.28 L348.15,88.98 Z" fill="#1b2f63" stroke="#101a3a" stroke-width="0.4"/>
<path d="M347.40,87.37 L351.80,87.37 L349.60,91.07 Z" fill="#1b2f63" stroke="#101a3a" stroke-width="0.4"/>
<path d="M348.85,89.34 L353.25,89.34 L351.05,93.04 Z" fill="#1b2f63" stroke="#101a3a" stroke-width="0.4"/>
<path d="M350.30,91.11 L354.70,91.11 L352.50,94.81 Z" fill="#1b2f63" stroke="#101a3a" stroke-width="0.4"/>
<path d="M351.75,92.54 L356.15,92.54 L353.95,96.24 Z" fill="#1b2f63" stroke="#101a3a" stroke-width="0.4"/>
<path d="M353.20,93.72 L357.60,93.72 L355.40,97.42 Z" fill="#1b2f63" stroke="#101a3a" stroke-width="0.4"/>
<path d="M354.65,94.78 L359.05,94.78 L356.85,98.48 Z" fill="#1b2f63" stroke="#101a3a" stroke-width="0.4"/>
<path d="M356.10,95.69 L360.50,95.69 L358.30,99.39 Z" fill="#1b2f63" stroke="#101a3a" stroke-width="0.4"/>
<path d="M357.55,96.57 L361.95,96.57 L359.75,100.27 Z" fill="#1b2f63" stroke="#101a3a" stroke-width="0.4"/>
<path d="M359.00,97.48 L363.40,97.48 L361.20,101.18 Z" fill="#1b2f63" stroke="#101a3a" stroke-width="0.4"/>
<path d="M360.45,98.38 L364.85,98.38 L362.65,102.08 Z" fill="#1b2f63" stroke="#101a3a" stroke-width="0.4"/>
<path d="M361.90,99.26 L366.30,99.26 L364.10,102.96 Z" fill="#1b2f63" stroke="#101a3a" stroke-width="0.4"/>
<path d="M363.35,100.13 L367.75,100.13 L365.55,103.83 Z" fill="#1b2f63" stroke="#101a3a" stroke-width="0.4"/>
<path d="M364.80,100.99 L369.20,100.99 L367.00,104.69 Z" fill="#1b2f63" stroke="#101a3a" stroke-width="0.4"/>
<path d="M366.25,101.85 L370.65,101.85 L368.45,105.55 Z" fill="#1b2f63" stroke="#101a3a" stroke-width="0.4"/>
<path d="M367.70,102.68 L372.10,102.68 L369.90,106.38 Z" fill="#1b2f63" stroke="#101a3a" stroke-width="0.4"/>
<path d="M369.15,103.46 L373.55,103.46 L371.35,107.16 Z" fill="#1b2f63" stroke="#101a3a" stroke-width="0.4"/>
<path d="M370.60,104.20 L375.00,104.20 L372.80,107.90 Z" fill="#1b2f63" stroke="#101a3a" stroke-width="0.4"/>
<path d="M372.05,104.90 L376.45,104.90 L374.25,108.60 Z" fill="#1b2f63" stroke="#101a3a" stroke-width="0.4"/>
<path d="M373.50,105.57 L377.90,105.57 L375.70,109.27 Z" fill="#1b2f63" stroke="#101a3a" stroke-width="0.4"/>
<path d="M374.95,106.21 L379.35,106.21 L377.15,109.91 Z" fill="#1b2f63" stroke="#101a3a" stroke-width="0.4"/>
<path d="M376.40,106.83 L380.80,106.83 L378.60,110.53 Z" fill="#1b2f63" stroke="#101a3a" stroke-width="0.4"/>
<path d="M377.85,107.42 L382.25,107.42 L380.05,111.12 Z" fill="#1b2f63" stroke="#101a3a" stroke-width="0.4"/>
<path d="M379.30,107.99 L383.70,107.99 L381.50,111.69 Z" fill="#1b2f63" stroke="#101a3a" stroke-width="0.4"/>
<path d="M380.75,108.54 L385.15,108.54 L382.95,112.24 Z" fill="#1b2f63" stroke="#101a3a" stroke-width="0.4"/>
<path d="M382.20,109.08 L386.60,109.08 L384.40,112.78 Z" fill="#1b2f63" stroke="#101a3a" stroke-width="0.4"/>
<path d="M383.65,109.60 L388.05,109.60 L385.85,113.30 Z" fill="#1b2f63" stroke="#101a3a" stroke-width="0.4"/>
<path d="M385.10,110.10 L389.50,110.10 L387.30,113.80 Z" fill="#1b2f63" stroke="#101a3a" stroke-width="0.4"/>
<path d="M386.55,110.59 L390.95,110.59 L388.75,114.29 Z" fill="#1b2f63" stroke="#101a3a" stroke-width="0.4"/>
<path d="M388.00,111.06 L392.40,111.06 L390.20,114.76 Z" fill="#1b2f63" stroke="#101a3a" stroke-width="0.4"/>
<path d="M389.45,111.51 L393.85,111.51 L391.65,115.21 Z" fill="#1b2f63" stroke="#101a3a" stroke-width="0.4"/>
<path d="M390.90,111.94 L395.30,111.94 L393.10,115.64 Z" fill="#1b2f63" stroke="#101a3a" stroke-width="0.4"/>
<path d="M392.35,112.36 L396.75,112.36 L394.55,116.06 Z" fill="#1b2f63" stroke="#101a3a" stroke-width="0.4"/>
<path d="M393.80,112.75 L398.20,112.75 L396.00,116.45 Z" fill="#1b2f63" stroke="#101a3a" stroke-width="0.4"/>
<path d="M395.25,113.13 L399.65,113.13 L397.45,116.83 Z" fill="#1b2f63" stroke="#101a3a" stroke-width="0.4"/>
<path d="M396.70,113.51 L401.10,113.51 L398.90,117.21 Z" fill="#1b2f63" stroke="#101a3a" stroke-width="0.4"/>
<path d="M398.15,113.89 L402.55,113.89 L400.35,117.59 Z" fill="#1b2f63" stroke="#101a3a" stroke-width="0.4"/>
<path d="M399.60,114.27 L404.00,114.27 L401.80,117.97 Z" fill="#1b2f63" stroke="#101a3a" stroke-width="0.4"/>
<path d="M401.05,114.65 L405.45,114.65 L403.25,118.35 Z" fill="#1b2f63" stroke="#101a3a" stroke-width="0.4"/>
<path d="M402.50,115.03 L406.90,115.03 L404.70,118.73 Z" fill="#1b2f63" stroke="#101a3a" stroke-width="0.4"/>
<path d="M403.95,115.40 L408.35,115.40 L406.15,119.10 Z" fill="#1b2f63" stroke="#101a3a" stroke-width="0.4"/>
<path d="M405.40,115.77 L409.80,115.77 L407.60,119.47 Z" fill="#1b2f63" stroke="#101a3a" stroke-width="0.4"/>
<path d="M406.85,116.13 L411.25,116.13 L409.05,119.83 Z" fill="#1b2f63" stroke="#101a3a" stroke-width="0.4"/>
<path d="M408.30,116.48 L412.70,116.48 L410.50,120.18 Z" fill="#1b2f63" stroke="#101a3a" stroke-width="0.4"/>
<path d="M409.75,116.82 L414.15,116.82 L411.95,120.52 Z" fill="#1b2f63" stroke="#101a3a" stroke-width="0.4"/>
<path d="M411.20,117.15 L415.60,117.15 L413.40,120.85 Z" fill="#1b2f63" stroke="#101a3a" stroke-width="0.4"/>
<path d="M412.65,117.47 L417.05,117.47 L414.85,121.17 Z" fill="#1b2f63" stroke="#101a3a" stroke-width="0.4"/>
<path d="M414.10,117.77 L418.50,117.77 L416.30,121.47 Z" fill="#1b2f63" stroke="#101a3a" stroke-width="0.4"/>
<path d="M415.55,118.05 L419.95,118.05 L417.75,121.75 Z" fill="#1b2f63" stroke="#101a3a" stroke-width="0.4"/>
<path d="M417.00,118.33 L421.40,118.33 L419.20,122.03 Z" fill="#1b2f63" stroke="#101a3a" stroke-width="0.4"/>
<path d="M418.45,118.59 L422.85,118.59 L420.65,122.29 Z" fill="#1b2f63" stroke="#101a3a" stroke-width="0.4"/>
<path d="M419.90,118.85 L424.30,118.85 L422.10,122.55 Z" fill="#1b2f63" stroke="#101a3a" stroke-width="0.4"/>
<path d="M421.35,119.09 L425.75,119.09 L423.55,122.79 Z" fill="#1b2f63" stroke="#101a3a" stroke-width="0.4"/>
<path d="M422.80,119.33 L427.20,119.33 L425.00,123.03 Z" fill="#1b2f63" stroke="#101a3a" stroke-width="0.4"/>
<path d="M424.25,119.56 L428.65,119.56 L426.45,123.26 Z" fill="#1b2f63" stroke="#101a3a" stroke-width="0.4"/>
<path d="M425.70,119.79 L430.10,119.79 L427.90,123.49 Z" fill="#1b2f63" stroke="#101a3a" stroke-width="0.4"/>
<path d="M427.15,120.00 L431.55,120.00 L429.35,123.70 Z" fill="#1b2f63" stroke="#101a3a" stroke-width="0.4"/>
<path d="M428.60,120.21 L433.00,120.21 L430.80,123.91 Z" fill="#1b2f63" stroke="#101a3a" stroke-width="0.4"/>
<path d="M430.05,120.41 L434.45,120.41 L432.25,124.11 Z" fill="#1b2f63" stroke="#101a3a" stroke-width="0.4"/>
<path d="M431.50,120.61 L435.90,120.61 L433.70,124.31 Z" fill="#1b2f63" stroke="#101a3a" stroke-width="0.4"/>
<path d="M432.95,120.79 L437.35,120.79 L435.15,124.49 Z" fill="#1b2f63" stroke="#101a3a" stroke-width="0.4"/>
<path d="M434.40,120.96 L438.80,120.96 L436.60,124.66 Z" fill="#1b2f63" stroke="#101a3a" stroke-width="0.4"/>
<path d="M435.85,121.13 L440.25,121.13 L438.05,124.83 Z" fill="#1b2f63" stroke="#101a3a" stroke-width="0.4"/>
<path d="M437.30,121.30 L441.70,121.30 L439.50,125.00 Z" fill="#1b2f63" stroke="#101a3a" stroke-width="0.4"/>
<path d="M438.75,121.46 L443.15,121.46 L440.95,125.16 Z" fill="#1b2f63" stroke="#101a3a" stroke-width="0.4"/>
<path d="M440.20,121.62 L444.60,121.62 L442.40,125.32 Z" fill="#1b2f63" stroke="#101a3a" stroke-width="0.4"/>
<path d="M441.65,121.77 L446.05,121.77 L443.85,125.47 Z" fill="#1b2f63" stroke="#101a3a" stroke-width="0.4"/>
<path d="M443.10,121.93 L447.50,121.93 L445.30,125.63 Z" fill="#1b2f63" stroke="#101a3a" stroke-width="0.4"/>
<path d="M444.55,122.09 L448.95,122.09 L446.75,125.79 Z" fill="#1b2f63" stroke="#101a3a" stroke-width="0.4"/>
<path d="M446.00,122.25 L450.40,122.25 L448.20,125.95 Z" fill="#1b2f63" stroke="#101a3a" stroke-width="0.4"/>
<path d="M447.45,122.41 L451.85,122.41 L449.65,126.11 Z" fill="#1b2f63" stroke="#101a3a" stroke-width="0.4"/>
<path d="M448.90,122.56 L453.30,122.56 L451.10,126.26 Z" fill="#1b2f63" stroke="#101a3a" stroke-width="0.4"/>
<path d="M450.35,122.71 L454.75,122.71 L452.55,126.41 Z" fill="#1b2f63" stroke="#101a3a" stroke-width="0.4"/>
<path d="M451.80,122.86 L456.20,122.86 L454.00,126.56 Z" fill="#1b2f63" stroke="#101a3a" stroke-width="0.4"/>
<path d="M453.25,123.00 L457.65,123.00 L455.45,126.70 Z" fill="#1b2f63" stroke="#101a3a" stroke-width="0.4"/>
<path d="M454.70,123.13 L459.10,123.13 L456.90,126.83 Z" fill="#1b2f63" stroke="#101a3a" stroke-width="0.4"/>
<path d="M456.15,123.26 L460.55,123.26 L458.35,126.96 Z" fill="#1b2f63" stroke="#101a3a" stroke-width="0.4"/>
<path d="M457.60,123.38 L462.00,123.38 L459.80,127.08 Z" fill="#1b2f63" stroke="#101a3a" stroke-width="0.4"/>
<path d="M459.05,123.50 L463.45,123.50 L461.25,127.20 Z" fill="#1b2f63" stroke="#101a3a" stroke-width="0.4"/>
<path d="M460.50,123.61 L464.90,123.61 L462.70,127.31 Z" fill="#1b2f63" stroke="#101a3a" stroke-width="0.4"/>
<path d="M461.95,123.72 L466.35,123.72 L464.15,127.42 Z" fill="#1b2f63" stroke="#101a3a" stroke-width="0.4"/>
<path d="M463.40,123.83 L467.80,123.83 L465.60,127.53 Z" fill="#1b2f63" stroke="#101a3a" stroke-width="0.4"/>
<path d="M464.85,123.94 L469.25,123.94 L467.05,127.64 Z" fill="#1b2f63" stroke="#101a3a" stroke-width="0.4"/>
<path d="M466.30,124.04 L470.70,124.04 L468.50,127.74 Z" fill="#1b2f63" stroke="#101a3a" stroke-width="0.4"/>
<path d="M467.75,124.14 L472.15,124.14 L469.95,127.84 Z" fill="#1b2f63" stroke="#101a3a" stroke-width="0.4"/>
<path d="M469.20,124.24 L473.60,124.24 L471.40,127.94 Z" fill="#1b2f63" stroke="#101a3a" stroke-width="0.4"/>
<path d="M470.65,124.34 L475.05,124.34 L472.85,128.04 Z" fill="#1b2f63" stroke="#101a3a" stroke-width="0.4"/>
<path d="M472.10,124.43 L476.50,124.43 L474.30,128.13 Z" fill="#1b2f63" stroke="#101a3a" stroke-width="0.4"/>
<path d="M473.55,124.53 L477.95,124.53 L475.75,128.23 Z" fill="#1b2f63" stroke="#101a3a" stroke-width="0.4"/>
<path d="M475.00,124.62 L479.40,124.62 L477.20,128.32 Z" fill="#1b2f63" stroke="#101a3a" stroke-width="0.4"/>
<path d="M476.45,124.71 L480.85,124.71 L478.65,128.41 Z" fill="#1b2f63" stroke="#101a3a" stroke-width="0.4"/>
<path d="M477.90,124.81 L482.30,124.81 L480.10,128.51 Z" fill="#1b2f63" stroke="#101a3a" stroke-width="0.4"/>
<path d="M479.35,124.89 L483.75,124.89 L481.55,128.59 Z" fill="#1b2f63" stroke="#101a3a" stroke-width="0.4"/>
<path d="M480.80,124.98 L485.20,124.98 L483.00,128.68 Z" fill="#1b2f63" stroke="#101a3a" stroke-width="0.4"/>
<path d="M482.25,125.06 L486.65,125.06 L484.45,128.76 Z" fill="#1b2f63" stroke="#101a3a" stroke-width="0.4"/>
<path d="M483.70,125.14 L488.10,125.14 L485.90,128.84 Z" fill="#1b2f63" stroke="#101a3a" stroke-width="0.4"/>
<path d="M485.15,125.21 L489.55,125.21 L487.35,128.91 Z" fill="#1b2f63" stroke="#101a3a" stroke-width="0.4"/>
<path d="M486.60,125.29 L491.00,125.29 L488.80,128.99 Z" fill="#1b2f63" stroke="#101a3a" stroke-width="0.4"/>
<path d="M488.05,125.36 L492.45,125.36 L490.25,129.06 Z" fill="#1b2f63" stroke="#101a3a" stroke-width="0.4"/>
<path d="M489.50,125.43 L493.90,125.43 L491.70,129.13 Z" fill="#1b2f63" stroke="#101a3a" stroke-width="0.4"/>
<path d="M490.95,125.50 L495.35,125.50 L493.15,129.20 Z" fill="#1b2f63" stroke="#101a3a" stroke-width="0.4"/>
<path d="M492.40,125.58 L496.80,125.58 L494.60,129.28 Z" fill="#1b2f63" stroke="#101a3a" stroke-width="0.4"/>
<path d="M493.85,125.66 L498.25,125.66 L496.05,129.36 Z" fill="#1b2f63" stroke="#101a3a" stroke-width="0.4"/>
<path d="M495.30,125.73 L499.70,125.73 L497.50,129.43 Z" fill="#1b2f63" stroke="#101a3a" stroke-width="0.4"/>
<path d="M496.75,125.81 L501.15,125.81 L498.95,129.51 Z" fill="#1b2f63" stroke="#101a3a" stroke-width="0.4"/>
<path d="M498.20,125.89 L502.60,125.89 L500.40,129.59 Z" fill="#1b2f63" stroke="#101a3a" stroke-width="0.4"/>
<path d="M499.65,125.97 L504.05,125.97 L501.85,129.67 Z" fill="#1b2f63" stroke="#101a3a" stroke-width="0.4"/>
<path d="M501.10,126.04 L505.50,126.04 L503.30,129.74 Z" fill="#1b2f63" stroke="#101a3a" stroke-width="0.4"/>
<path d="M502.55,126.12 L506.95,126.12 L504.75,129.82 Z" fill="#1b2f63" stroke="#101a3a" stroke-width="0.4"/>
<path d="M504.00,126.20 L508.40,126.20 L506.20,129.90 Z" fill="#1b2f63" stroke="#101a3a" stroke-width="0.4"/>
<path d="M505.45,126.27 L509.85,126.27 L507.65,129.97 Z" fill="#1b2f63" stroke="#101a3a" stroke-width="0.4"/>
<path d="M506.90,126.35 L511.30,126.35 L509.10,130.05 Z" fill="#1b2f63" stroke="#101a3a" stroke-width="0.4"/>
<path d="M320.00,38.80 L320.23,39.08 L320.54,39.45 L320.91,39.89 L321.32,40.39 L321.76,40.92 L322.19,41.48 L322.61,42.04 L323.00,42.60 L323.36,43.16 L323.71,43.74 L324.06,44.34 L324.41,44.96 L324.76,45.60 L325.10,46.25 L325.45,46.92 L325.80,47.60 L326.15,48.30 L326.50,49.02 L326.85,49.76 L327.20,50.51 L327.55,51.28 L327.90,52.05 L328.25,52.82 L328.60,53.60 L328.95,54.38 L329.30,55.17 L329.64,55.96 L329.99,56.76 L330.34,57.57 L330.69,58.38 L331.04,59.19 L331.40,60.00 L331.76,60.81 L332.11,61.60 L332.47,62.40 L332.82,63.20 L333.19,64.01 L333.57,64.85 L333.98,65.71 L334.40,66.60 L334.84,67.53 L335.29,68.48 L335.76,69.45 L336.24,70.45 L336.74,71.47 L337.26,72.50 L337.82,73.54 L338.40,74.60 L339.02,75.68 L339.68,76.80 L340.37,77.95 L341.07,79.10 L341.80,80.25 L342.53,81.40 L343.27,82.52 L344.00,83.60 L344.73,84.67 L345.48,85.74 L346.24,86.81 L347.01,87.85 L347.77,88.86 L348.53,89.83 L349.27,90.75 L350.00,91.60 L350.72,92.38 L351.43,93.12 L352.14,93.80 L352.84,94.44 L353.53,95.03 L354.21,95.59 L354.86,96.11 L355.50,96.60 L356.11,97.05 L356.68,97.44 L357.24,97.79 L357.78,98.10 L358.32,98.39 L358.86,98.66 L359.42,98.93 L360.00,99.20 L360.59,99.45 L361.17,99.66 L361.75,99.85 L362.34,100.04 L362.96,100.23 L363.60,100.44 L364.28,100.69 L365.00,101.00 L365.77,101.37 L366.59,101.78 L367.43,102.23 L368.31,102.70 L369.21,103.19 L370.13,103.67 L371.06,104.15 L372.00,104.60 L372.94,105.03 L373.88,105.46 L374.84,105.89 L375.81,106.31 L376.81,106.73 L377.84,107.15 L378.90,107.58 L380.00,108.00 L381.15,108.43 L382.36,108.87 L383.60,109.31 L384.88,109.75 L386.16,110.18 L387.45,110.61 L388.74,111.01 L390.00,111.40 L391.22,111.76 L392.38,112.08 L393.53,112.39 L394.69,112.68 L395.88,112.98 L397.15,113.29 L398.51,113.63 L400.00,114.00 L401.64,114.42 L403.40,114.87 L405.26,115.35 L407.19,115.84 L409.16,116.34 L411.13,116.82 L413.09,117.28 L415.00,117.70 L416.88,118.09 L418.75,118.47 L420.62,118.83 L422.50,119.17 L424.38,119.50 L426.25,119.81 L428.12,120.11 L430.00,120.40 L431.88,120.67 L433.75,120.92 L435.62,121.15 L437.50,121.37 L439.38,121.58 L441.25,121.79 L443.12,121.99 L445.00,122.20 L446.84,122.41 L448.63,122.62 L450.41,122.82 L452.19,123.02 L454.01,123.22 L455.90,123.42 L457.89,123.61 L460.00,123.80 L462.29,123.99 L464.77,124.18 L467.35,124.37 L470.00,124.55 L472.65,124.73 L475.23,124.90 L477.71,125.06 L480.00,125.20 L482.11,125.33 L484.10,125.44 L485.99,125.55 L487.81,125.64 L489.59,125.73 L491.37,125.82 L493.16,125.91 L495.00,126.00 L496.98,126.10 L499.10,126.20 L501.28,126.30 L503.44,126.40 L505.47,126.49 L507.30,126.58 L508.84,126.65 L510.00,126.70" stroke="#0a0f22" stroke-width="1.0" fill="none" />
<path d="M318.70,27.10 L320.80,25.00 L322.90,27.10 L320.80,29.20 Z" fill="#fff" stroke="#bd1440" stroke-width="1.15"/>
<path d="M320.15,28.43 L322.25,26.33 L324.35,28.43 L322.25,30.53 Z" fill="#fff" stroke="#bd1440" stroke-width="1.15"/>
<path d="M321.60,29.85 L323.70,27.75 L325.80,29.85 L323.70,31.95 Z" fill="#fff" stroke="#bd1440" stroke-width="1.15"/>
<path d="M323.05,31.66 L325.15,29.56 L327.25,31.66 L325.15,33.76 Z" fill="#fff" stroke="#bd1440" stroke-width="1.15"/>
<path d="M324.50,33.94 L326.60,31.84 L328.70,33.94 L326.60,36.04 Z" fill="#fff" stroke="#bd1440" stroke-width="1.15"/>
<path d="M325.95,36.27 L328.05,34.17 L330.15,36.27 L328.05,38.37 Z" fill="#fff" stroke="#bd1440" stroke-width="1.15"/>
<path d="M327.40,38.80 L329.50,36.70 L331.60,38.80 L329.50,40.90 Z" fill="#fff" stroke="#bd1440" stroke-width="1.15"/>
<path d="M328.85,41.58 L330.95,39.48 L333.05,41.58 L330.95,43.68 Z" fill="#fff" stroke="#bd1440" stroke-width="1.15"/>
<path d="M330.30,44.87 L332.40,42.77 L334.50,44.87 L332.40,46.97 Z" fill="#fff" stroke="#bd1440" stroke-width="1.15"/>
<path d="M331.75,48.09 L333.85,45.99 L335.95,48.09 L333.85,50.19 Z" fill="#fff" stroke="#bd1440" stroke-width="1.15"/>
<path d="M333.20,51.25 L335.30,49.15 L337.40,51.25 L335.30,53.35 Z" fill="#fff" stroke="#bd1440" stroke-width="1.15"/>
<path d="M334.65,55.21 L336.75,53.11 L338.85,55.21 L336.75,57.31 Z" fill="#fff" stroke="#bd1440" stroke-width="1.15"/>
<path d="M336.10,58.66 L338.20,56.56 L340.30,58.66 L338.20,60.76 Z" fill="#fff" stroke="#bd1440" stroke-width="1.15"/>
<path d="M337.55,62.20 L339.65,60.10 L341.75,62.20 L339.65,64.30 Z" fill="#fff" stroke="#bd1440" stroke-width="1.15"/>
<path d="M339.00,66.12 L341.10,64.02 L343.20,66.12 L341.10,68.22 Z" fill="#fff" stroke="#bd1440" stroke-width="1.15"/>
<path d="M340.45,69.18 L342.55,67.08 L344.65,69.18 L342.55,71.28 Z" fill="#fff" stroke="#bd1440" stroke-width="1.15"/>
<path d="M341.90,72.06 L344.00,69.96 L346.10,72.06 L344.00,74.16 Z" fill="#fff" stroke="#bd1440" stroke-width="1.15"/>
<path d="M343.35,75.35 L345.45,73.25 L347.55,75.35 L345.45,77.45 Z" fill="#fff" stroke="#bd1440" stroke-width="1.15"/>
<path d="M344.80,78.39 L346.90,76.29 L349.00,78.39 L346.90,80.49 Z" fill="#fff" stroke="#bd1440" stroke-width="1.15"/>
<path d="M346.25,81.56 L348.35,79.46 L350.45,81.56 L348.35,83.66 Z" fill="#fff" stroke="#bd1440" stroke-width="1.15"/>
<path d="M347.70,84.52 L349.80,82.42 L351.90,84.52 L349.80,86.62 Z" fill="#fff" stroke="#bd1440" stroke-width="1.15"/>
<path d="M349.15,87.25 L351.25,85.15 L353.35,87.25 L351.25,89.35 Z" fill="#fff" stroke="#bd1440" stroke-width="1.15"/>
<path d="M350.60,89.58 L352.70,87.48 L354.80,89.58 L352.70,91.68 Z" fill="#fff" stroke="#bd1440" stroke-width="1.15"/>
<path d="M352.05,91.63 L354.15,89.53 L356.25,91.63 L354.15,93.73 Z" fill="#fff" stroke="#bd1440" stroke-width="1.15"/>
<path d="M353.50,93.60 L355.60,91.50 L357.70,93.60 L355.60,95.70 Z" fill="#fff" stroke="#bd1440" stroke-width="1.15"/>
<path d="M354.95,95.66 L357.05,93.56 L359.15,95.66 L357.05,97.76 Z" fill="#fff" stroke="#bd1440" stroke-width="1.15"/>
<path d="M356.40,97.29 L358.50,95.19 L360.60,97.29 L358.50,99.39 Z" fill="#fff" stroke="#bd1440" stroke-width="1.15"/>
<path d="M357.85,98.75 L359.95,96.65 L362.05,98.75 L359.95,100.85 Z" fill="#fff" stroke="#bd1440" stroke-width="1.15"/>
<path d="M359.30,100.25 L361.40,98.15 L363.50,100.25 L361.40,102.35 Z" fill="#fff" stroke="#bd1440" stroke-width="1.15"/>
<path d="M360.75,101.73 L362.85,99.63 L364.95,101.73 L362.85,103.83 Z" fill="#fff" stroke="#bd1440" stroke-width="1.15"/>
<path d="M362.20,103.13 L364.30,101.03 L366.40,103.13 L364.30,105.23 Z" fill="#fff" stroke="#bd1440" stroke-width="1.15"/>
<path d="M363.64,104.38 L365.75,102.27 L367.86,104.38 L365.75,106.48 Z" fill="#fff" stroke="#bd1440" stroke-width="1.15"/>
<path d="M365.08,105.51 L367.20,103.39 L369.32,105.51 L367.20,107.63 Z" fill="#fff" stroke="#bd1440" stroke-width="1.15"/>
<path d="M366.52,106.61 L368.65,104.48 L370.78,106.61 L368.65,108.74 Z" fill="#fff" stroke="#bd1440" stroke-width="1.15"/>
<path d="M367.96,107.77 L370.10,105.63 L372.24,107.77 L370.10,109.92 Z" fill="#fff" stroke="#bd1440" stroke-width="1.15"/>
<path d="M369.40,109.00 L371.55,106.84 L373.70,109.00 L371.55,111.15 Z" fill="#fff" stroke="#bd1440" stroke-width="1.15"/>
<path d="M370.83,110.19 L373.00,108.02 L375.17,110.19 L373.00,112.36 Z" fill="#fff" stroke="#bd1440" stroke-width="1.15"/>
<path d="M372.27,111.27 L374.45,109.09 L376.63,111.27 L374.45,113.45 Z" fill="#fff" stroke="#bd1440" stroke-width="1.15"/>
<path d="M373.71,112.22 L375.90,110.03 L378.09,112.22 L375.90,114.41 Z" fill="#fff" stroke="#bd1440" stroke-width="1.15"/>
<path d="M375.15,113.08 L377.35,110.88 L379.55,113.08 L377.35,115.28 Z" fill="#fff" stroke="#bd1440" stroke-width="1.15"/>
<path d="M376.59,113.89 L378.80,111.67 L381.01,113.89 L378.80,116.10 Z" fill="#fff" stroke="#bd1440" stroke-width="1.15"/>
<path d="M378.02,114.67 L380.25,112.45 L382.48,114.67 L380.25,116.90 Z" fill="#fff" stroke="#bd1440" stroke-width="1.15"/>
<path d="M379.46,115.41 L381.70,113.18 L383.94,115.41 L381.70,117.65 Z" fill="#fff" stroke="#bd1440" stroke-width="1.15"/>
<path d="M380.90,116.11 L383.15,113.85 L385.40,116.11 L383.15,118.36 Z" fill="#fff" stroke="#bd1440" stroke-width="1.15"/>
<path d="M382.34,116.74 L384.60,114.48 L386.86,116.74 L384.60,119.00 Z" fill="#fff" stroke="#bd1440" stroke-width="1.15"/>
<path d="M383.77,117.31 L386.05,115.03 L388.33,117.31 L386.05,119.58 Z" fill="#fff" stroke="#bd1440" stroke-width="1.15"/>
<path d="M385.21,117.84 L387.50,115.56 L389.79,117.84 L387.50,120.13 Z" fill="#fff" stroke="#bd1440" stroke-width="1.15"/>
<path d="M386.65,118.40 L388.95,116.10 L391.25,118.40 L388.95,120.70 Z" fill="#fff" stroke="#bd1440" stroke-width="1.15"/>
<path d="M388.09,118.98 L390.40,116.67 L392.71,118.98 L390.40,121.29 Z" fill="#fff" stroke="#bd1440" stroke-width="1.15"/>
<path d="M389.53,119.57 L391.85,117.24 L394.17,119.57 L391.85,121.89 Z" fill="#fff" stroke="#bd1440" stroke-width="1.15"/>
<path d="M390.96,120.13 L393.30,117.79 L395.64,120.13 L393.30,122.46 Z" fill="#fff" stroke="#bd1440" stroke-width="1.15"/>
<path d="M392.40,120.65 L394.75,118.30 L397.10,120.65 L394.75,123.00 Z" fill="#fff" stroke="#bd1440" stroke-width="1.15"/>
<path d="M393.85,121.15 L396.20,118.80 L398.55,121.15 L396.20,123.50 Z" fill="#fff" stroke="#bd1440" stroke-width="1.15"/>
<path d="M395.30,121.60 L397.65,119.25 L400.00,121.60 L397.65,123.95 Z" fill="#fff" stroke="#bd1440" stroke-width="1.15"/>
<path d="M396.75,122.03 L399.10,119.68 L401.45,122.03 L399.10,124.38 Z" fill="#fff" stroke="#bd1440" stroke-width="1.15"/>
<path d="M398.20,122.45 L400.55,120.10 L402.90,122.45 L400.55,124.80 Z" fill="#fff" stroke="#bd1440" stroke-width="1.15"/>
<path d="M399.65,122.84 L402.00,120.49 L404.35,122.84 L402.00,125.19 Z" fill="#fff" stroke="#bd1440" stroke-width="1.15"/>
<path d="M401.10,123.22 L403.45,120.87 L405.80,123.22 L403.45,125.57 Z" fill="#fff" stroke="#bd1440" stroke-width="1.15"/>
<path d="M402.55,123.58 L404.90,121.23 L407.25,123.58 L404.90,125.93 Z" fill="#fff" stroke="#bd1440" stroke-width="1.15"/>
<path d="M404.00,123.93 L406.35,121.58 L408.70,123.93 L406.35,126.28 Z" fill="#fff" stroke="#bd1440" stroke-width="1.15"/>
<path d="M405.45,124.29 L407.80,121.94 L410.15,124.29 L407.80,126.64 Z" fill="#fff" stroke="#bd1440" stroke-width="1.15"/>
<path d="M406.90,124.64 L409.25,122.29 L411.60,124.64 L409.25,126.99 Z" fill="#fff" stroke="#bd1440" stroke-width="1.15"/>
<path d="M408.35,124.98 L410.70,122.63 L413.05,124.98 L410.70,127.33 Z" fill="#fff" stroke="#bd1440" stroke-width="1.15"/>
<path d="M409.80,125.28 L412.15,122.93 L414.50,125.28 L412.15,127.63 Z" fill="#fff" stroke="#bd1440" stroke-width="1.15"/>
<path d="M411.25,125.56 L413.60,123.21 L415.95,125.56 L413.60,127.91 Z" fill="#fff" stroke="#bd1440" stroke-width="1.15"/>
<path d="M412.70,125.81 L415.05,123.46 L417.40,125.81 L415.05,128.16 Z" fill="#fff" stroke="#bd1440" stroke-width="1.15"/>
<path d="M414.15,126.03 L416.50,123.68 L418.85,126.03 L416.50,128.38 Z" fill="#fff" stroke="#bd1440" stroke-width="1.15"/>
<path d="M415.60,126.23 L417.95,123.88 L420.30,126.23 L417.95,128.58 Z" fill="#fff" stroke="#bd1440" stroke-width="1.15"/>
<path d="M417.05,126.41 L419.40,124.06 L421.75,126.41 L419.40,128.76 Z" fill="#fff" stroke="#bd1440" stroke-width="1.15"/>
<path d="M418.50,126.59 L420.85,124.24 L423.20,126.59 L420.85,128.94 Z" fill="#fff" stroke="#bd1440" stroke-width="1.15"/>
<path d="M419.95,126.76 L422.30,124.41 L424.65,126.76 L422.30,129.11 Z" fill="#fff" stroke="#bd1440" stroke-width="1.15"/>
<path d="M421.40,126.92 L423.75,124.57 L426.10,126.92 L423.75,129.27 Z" fill="#fff" stroke="#bd1440" stroke-width="1.15"/>
<path d="M422.85,127.08 L425.20,124.73 L427.55,127.08 L425.20,129.43 Z" fill="#fff" stroke="#bd1440" stroke-width="1.15"/>
<path d="M424.30,127.24 L426.65,124.89 L429.00,127.24 L426.65,129.59 Z" fill="#fff" stroke="#bd1440" stroke-width="1.15"/>
<path d="M425.75,127.39 L428.10,125.04 L430.45,127.39 L428.10,129.74 Z" fill="#fff" stroke="#bd1440" stroke-width="1.15"/>
<path d="M427.20,127.55 L429.55,125.20 L431.90,127.55 L429.55,129.90 Z" fill="#fff" stroke="#bd1440" stroke-width="1.15"/>
<path d="M428.65,127.71 L431.00,125.36 L433.35,127.71 L431.00,130.06 Z" fill="#fff" stroke="#bd1440" stroke-width="1.15"/>
<path d="M430.10,127.87 L432.45,125.52 L434.80,127.87 L432.45,130.22 Z" fill="#fff" stroke="#bd1440" stroke-width="1.15"/>
<path d="M431.55,128.02 L433.90,125.67 L436.25,128.02 L433.90,130.37 Z" fill="#fff" stroke="#bd1440" stroke-width="1.15"/>
<path d="M433.00,128.17 L435.35,125.82 L437.70,128.17 L435.35,130.52 Z" fill="#fff" stroke="#bd1440" stroke-width="1.15"/>
<path d="M434.45,128.32 L436.80,125.97 L439.15,128.32 L436.80,130.67 Z" fill="#fff" stroke="#bd1440" stroke-width="1.15"/>
<path d="M435.90,128.46 L438.25,126.11 L440.60,128.46 L438.25,130.81 Z" fill="#fff" stroke="#bd1440" stroke-width="1.15"/>
<path d="M437.35,128.60 L439.70,126.25 L442.05,128.60 L439.70,130.95 Z" fill="#fff" stroke="#bd1440" stroke-width="1.15"/>
<path d="M438.80,128.74 L441.15,126.39 L443.50,128.74 L441.15,131.09 Z" fill="#fff" stroke="#bd1440" stroke-width="1.15"/>
<path d="M440.25,128.88 L442.60,126.53 L444.95,128.88 L442.60,131.23 Z" fill="#fff" stroke="#bd1440" stroke-width="1.15"/>
<path d="M441.70,129.01 L444.05,126.66 L446.40,129.01 L444.05,131.36 Z" fill="#fff" stroke="#bd1440" stroke-width="1.15"/>
<path d="M443.15,129.14 L445.50,126.79 L447.85,129.14 L445.50,131.49 Z" fill="#fff" stroke="#bd1440" stroke-width="1.15"/>
<path d="M444.60,129.27 L446.95,126.92 L449.30,129.27 L446.95,131.62 Z" fill="#fff" stroke="#bd1440" stroke-width="1.15"/>
<path d="M446.05,129.40 L448.40,127.05 L450.75,129.40 L448.40,131.75 Z" fill="#fff" stroke="#bd1440" stroke-width="1.15"/>
<path d="M447.50,129.53 L449.85,127.18 L452.20,129.53 L449.85,131.88 Z" fill="#fff" stroke="#bd1440" stroke-width="1.15"/>
<path d="M448.95,129.65 L451.30,127.30 L453.65,129.65 L451.30,132.00 Z" fill="#fff" stroke="#bd1440" stroke-width="1.15"/>
<path d="M450.40,129.77 L452.75,127.42 L455.10,129.77 L452.75,132.12 Z" fill="#fff" stroke="#bd1440" stroke-width="1.15"/>
<path d="M451.85,129.89 L454.20,127.54 L456.55,129.89 L454.20,132.24 Z" fill="#fff" stroke="#bd1440" stroke-width="1.15"/>
<path d="M453.30,130.00 L455.65,127.65 L458.00,130.00 L455.65,132.35 Z" fill="#fff" stroke="#bd1440" stroke-width="1.15"/>
<path d="M454.75,130.10 L457.10,127.75 L459.45,130.10 L457.10,132.45 Z" fill="#fff" stroke="#bd1440" stroke-width="1.15"/>
<path d="M456.20,130.20 L458.55,127.85 L460.90,130.20 L458.55,132.55 Z" fill="#fff" stroke="#bd1440" stroke-width="1.15"/>
<path d="M457.65,130.30 L460.00,127.95 L462.35,130.30 L460.00,132.65 Z" fill="#fff" stroke="#bd1440" stroke-width="1.15"/>
<path d="M459.10,130.39 L461.45,128.04 L463.80,130.39 L461.45,132.74 Z" fill="#fff" stroke="#bd1440" stroke-width="1.15"/>
<path d="M460.55,130.47 L462.90,128.12 L465.25,130.47 L462.90,132.82 Z" fill="#fff" stroke="#bd1440" stroke-width="1.15"/>
<path d="M462.00,130.55 L464.35,128.20 L466.70,130.55 L464.35,132.90 Z" fill="#fff" stroke="#bd1440" stroke-width="1.15"/>
<path d="M463.45,130.63 L465.80,128.28 L468.15,130.63 L465.80,132.98 Z" fill="#fff" stroke="#bd1440" stroke-width="1.15"/>
<path d="M464.90,130.69 L467.25,128.34 L469.60,130.69 L467.25,133.04 Z" fill="#fff" stroke="#bd1440" stroke-width="1.15"/>
<path d="M466.35,130.76 L468.70,128.41 L471.05,130.76 L468.70,133.11 Z" fill="#fff" stroke="#bd1440" stroke-width="1.15"/>
<path d="M467.80,130.82 L470.15,128.47 L472.50,130.82 L470.15,133.17 Z" fill="#fff" stroke="#bd1440" stroke-width="1.15"/>
<path d="M469.25,130.88 L471.60,128.53 L473.95,130.88 L471.60,133.23 Z" fill="#fff" stroke="#bd1440" stroke-width="1.15"/>
<path d="M470.70,130.93 L473.05,128.58 L475.40,130.93 L473.05,133.28 Z" fill="#fff" stroke="#bd1440" stroke-width="1.15"/>
<path d="M472.15,130.98 L474.50,128.63 L476.85,130.98 L474.50,133.33 Z" fill="#fff" stroke="#bd1440" stroke-width="1.15"/>
<path d="M473.60,131.03 L475.95,128.68 L478.30,131.03 L475.95,133.38 Z" fill="#fff" stroke="#bd1440" stroke-width="1.15"/>
<path d="M475.05,131.07 L477.40,128.72 L479.75,131.07 L477.40,133.42 Z" fill="#fff" stroke="#bd1440" stroke-width="1.15"/>
<path d="M476.50,131.11 L478.85,128.76 L481.20,131.11 L478.85,133.46 Z" fill="#fff" stroke="#bd1440" stroke-width="1.15"/>
<path d="M477.95,131.14 L480.30,128.79 L482.65,131.14 L480.30,133.49 Z" fill="#fff" stroke="#bd1440" stroke-width="1.15"/>
<path d="M479.40,131.17 L481.75,128.82 L484.10,131.17 L481.75,133.52 Z" fill="#fff" stroke="#bd1440" stroke-width="1.15"/>
<path d="M480.85,131.20 L483.20,128.85 L485.55,131.20 L483.20,133.55 Z" fill="#fff" stroke="#bd1440" stroke-width="1.15"/>
<path d="M482.30,131.22 L484.65,128.87 L487.00,131.22 L484.65,133.57 Z" fill="#fff" stroke="#bd1440" stroke-width="1.15"/>
<path d="M483.75,131.24 L486.10,128.89 L488.45,131.24 L486.10,133.59 Z" fill="#fff" stroke="#bd1440" stroke-width="1.15"/>
<path d="M485.20,131.26 L487.55,128.91 L489.90,131.26 L487.55,133.61 Z" fill="#fff" stroke="#bd1440" stroke-width="1.15"/>
<path d="M486.65,131.29 L489.00,128.94 L491.35,131.29 L489.00,133.64 Z" fill="#fff" stroke="#bd1440" stroke-width="1.15"/>
<path d="M488.10,131.31 L490.45,128.96 L492.80,131.31 L490.45,133.66 Z" fill="#fff" stroke="#bd1440" stroke-width="1.15"/>
<path d="M489.55,131.33 L491.90,128.98 L494.25,131.33 L491.90,133.68 Z" fill="#fff" stroke="#bd1440" stroke-width="1.15"/>
<path d="M491.00,131.34 L493.35,128.99 L495.70,131.34 L493.35,133.69 Z" fill="#fff" stroke="#bd1440" stroke-width="1.15"/>
<path d="M492.45,131.36 L494.80,129.01 L497.15,131.36 L494.80,133.71 Z" fill="#fff" stroke="#bd1440" stroke-width="1.15"/>
<path d="M493.90,131.38 L496.25,129.03 L498.60,131.38 L496.25,133.73 Z" fill="#fff" stroke="#bd1440" stroke-width="1.15"/>
<path d="M495.35,131.39 L497.70,129.04 L500.05,131.39 L497.70,133.74 Z" fill="#fff" stroke="#bd1440" stroke-width="1.15"/>
<path d="M496.80,131.41 L499.15,129.06 L501.50,131.41 L499.15,133.76 Z" fill="#fff" stroke="#bd1440" stroke-width="1.15"/>
<path d="M498.25,131.42 L500.60,129.07 L502.95,131.42 L500.60,133.77 Z" fill="#fff" stroke="#bd1440" stroke-width="1.15"/>
<path d="M499.70,131.44 L502.05,129.09 L504.40,131.44 L502.05,133.79 Z" fill="#fff" stroke="#bd1440" stroke-width="1.15"/>
<path d="M501.15,131.45 L503.50,129.10 L505.85,131.45 L503.50,133.80 Z" fill="#fff" stroke="#bd1440" stroke-width="1.15"/>
<path d="M502.60,131.46 L504.95,129.11 L507.30,131.46 L504.95,133.81 Z" fill="#fff" stroke="#bd1440" stroke-width="1.15"/>
<path d="M504.05,131.48 L506.40,129.13 L508.75,131.48 L506.40,133.83 Z" fill="#fff" stroke="#bd1440" stroke-width="1.15"/>
<path d="M505.50,131.49 L507.85,129.14 L510.20,131.49 L507.85,133.84 Z" fill="#fff" stroke="#bd1440" stroke-width="1.15"/>
<text x="449.00" y="31.00" font-size="7.9" text-anchor="start" textLength="26.3" lengthAdjust="spacingAndGlyphs" >Data Fit</text>
<path d="M455.2,39.0 L460.4,39.0 L457.8,42.9 Z" fill="#1b2f63" stroke="#0d1530" stroke-width="0.4"/>
<line x1="463.60" y1="40.90" x2="479.00" y2="40.90" stroke="#8ea2c8" stroke-width="1.2" />
<text x="481.70" y="43.20" font-size="7.9" text-anchor="start" textLength="24.6" lengthAdjust="spacingAndGlyphs" >PolyHb</text>
<path d="M455.6,52.7 L457.8,50.5 L460.0,52.7 L457.8,54.9 Z" fill="#fff" stroke="#bd1440" stroke-width="1.1"/>
<line x1="462.90" y1="52.70" x2="477.50" y2="52.70" stroke="#bd1440" stroke-width="1.1" stroke-dasharray="3,2"/>
<text x="481.70" y="55.10" font-size="7.9" text-anchor="start" textLength="10" lengthAdjust="spacingAndGlyphs" >Hb</text>
<line x1="59.20" y1="191.60" x2="59.20" y2="284.50" stroke="#1a1a1a" stroke-width="1" />
<line x1="58.70" y1="284.00" x2="255.60" y2="284.00" stroke="#1a1a1a" stroke-width="1" />
<line x1="55.80" y1="279.70" x2="59.20" y2="279.70" stroke="#1a1a1a" stroke-width="1" />
<text x="53.60" y="282.30" font-size="7.9" text-anchor="end" class="tk">0.0</text>
<line x1="55.80" y1="264.10" x2="59.20" y2="264.10" stroke="#1a1a1a" stroke-width="1" />
<text x="53.60" y="266.70" font-size="7.9" text-anchor="end" class="tk">0.2</text>
<line x1="55.80" y1="248.50" x2="59.20" y2="248.50" stroke="#1a1a1a" stroke-width="1" />
<text x="53.60" y="251.10" font-size="7.9" text-anchor="end" class="tk">0.4</text>
<line x1="55.80" y1="232.90" x2="59.20" y2="232.90" stroke="#1a1a1a" stroke-width="1" />
<text x="53.60" y="235.50" font-size="7.9" text-anchor="end" class="tk">0.6</text>
<line x1="55.80" y1="217.30" x2="59.20" y2="217.30" stroke="#1a1a1a" stroke-width="1" />
<text x="53.60" y="219.90" font-size="7.9" text-anchor="end" class="tk">0.8</text>
<line x1="55.80" y1="201.70" x2="59.20" y2="201.70" stroke="#1a1a1a" stroke-width="1" />
<text x="53.60" y="204.30" font-size="7.9" text-anchor="end" class="tk">1.0</text>
<line x1="59.70" y1="284.00" x2="59.70" y2="287.00" stroke="#1a1a1a" stroke-width="1" />
<text x="59.70" y="297.40" font-size="7.9" text-anchor="middle" class="tk">0</text>
<line x1="98.60" y1="284.00" x2="98.60" y2="287.00" stroke="#1a1a1a" stroke-width="1" />
<text x="98.60" y="297.40" font-size="7.9" text-anchor="middle" class="tk">10</text>
<line x1="137.50" y1="284.00" x2="137.50" y2="287.00" stroke="#1a1a1a" stroke-width="1" />
<text x="137.50" y="297.40" font-size="7.9" text-anchor="middle" class="tk">20</text>
<line x1="176.40" y1="284.00" x2="176.40" y2="287.00" stroke="#1a1a1a" stroke-width="1" />
<text x="176.40" y="297.40" font-size="7.9" text-anchor="middle" class="tk">30</text>
<line x1="215.30" y1="284.00" x2="215.30" y2="287.00" stroke="#1a1a1a" stroke-width="1" />
<text x="215.30" y="297.40" font-size="7.9" text-anchor="middle" class="tk">40</text>
<line x1="254.20" y1="284.00" x2="254.20" y2="287.00" stroke="#1a1a1a" stroke-width="1" />
<text x="254.20" y="297.40" font-size="7.9" text-anchor="middle" class="tk">50</text>
<text x="142.80" y="309.80" font-size="8.7" text-anchor="start" textLength="29.6" lengthAdjust="spacingAndGlyphs" class="at">Time (ms)</text>
<text class="at" x="0" y="0" font-size="8.9" text-anchor="middle" font-weight="normal" textLength="54" lengthAdjust="spacingAndGlyphs" transform="translate(26.10,237.40) rotate(-90)">Normalized relative</text>
<text class="at" x="0" y="0" font-size="8.9" text-anchor="middle" font-weight="normal" textLength="33" lengthAdjust="spacingAndGlyphs" transform="translate(36.60,237.70) rotate(-90)">absorbance</text>
<text x="131.80" y="199.30" font-size="7.9" text-anchor="start" textLength="39.5" lengthAdjust="spacingAndGlyphs" >12.5 µM NO</text>
<text x="177.40" y="199.30" font-size="7.9" text-anchor="start" textLength="34.7" lengthAdjust="spacingAndGlyphs" >25 µM NO</text>
<line x1="133.00" y1="202.60" x2="172.00" y2="202.60" stroke="#555" stroke-width="1.1" />
<line x1="177.00" y1="202.60" x2="213.80" y2="202.60" stroke="#555" stroke-width="1.1" />
<text x="135.30" y="211.80" font-size="7.9" text-anchor="start" textLength="24.3" lengthAdjust="spacingAndGlyphs" >Data Fit</text>
<text x="180.60" y="211.80" font-size="7.9" text-anchor="start" textLength="24.3" lengthAdjust="spacingAndGlyphs" >Data Fit</text>
<circle cx="143.3" cy="219.3" r="0.5" fill="#de8f7c"/>
<line x1="152.50" y1="219.30" x2="166.30" y2="219.30" stroke="#de8f7c" stroke-width="1.2" />
<circle cx="188.3" cy="219.3" r="0.5" fill="#b5153f"/>
<line x1="198.00" y1="219.30" x2="211.80" y2="219.30" stroke="#b5153f" stroke-width="1.2" />
<text x="223.70" y="221.80" font-size="7.9" text-anchor="start" textLength="10" lengthAdjust="spacingAndGlyphs" >Hb</text>
<circle cx="143.3" cy="231.8" r="0.5" fill="#a6b3d6"/>
<line x1="152.50" y1="231.80" x2="166.30" y2="231.80" stroke="#a6b3d6" stroke-width="1.2" stroke-dasharray="3,1.8"/>
<circle cx="188.3" cy="231.8" r="0.5" fill="#3b5d9a"/>
<line x1="198.00" y1="231.80" x2="211.80" y2="231.80" stroke="#3b5d9a" stroke-width="1.2" stroke-dasharray="3,1.8"/>
<text x="223.70" y="234.30" font-size="7.9" text-anchor="start" textLength="24.3" lengthAdjust="spacingAndGlyphs" >PolyHb</text>
<circle cx="77.00" cy="197.19" r="0.5" fill="#b8c4e4"/>
<circle cx="77.37" cy="199.11" r="0.5" fill="#b8c4e4"/>
<circle cx="77.74" cy="200.46" r="0.5" fill="#b8c4e4"/>
<circle cx="78.11" cy="202.29" r="0.5" fill="#b8c4e4"/>
<circle cx="78.49" cy="203.88" r="0.5" fill="#b8c4e4"/>
<circle cx="78.87" cy="204.76" r="0.5" fill="#b8c4e4"/>
<circle cx="79.27" cy="206.24" r="0.5" fill="#b8c4e4"/>
<circle cx="79.69" cy="208.78" r="0.5" fill="#b8c4e4"/>
<circle cx="80.12" cy="209.62" r="0.5" fill="#b8c4e4"/>
<circle cx="80.58" cy="211.12" r="0.5" fill="#b8c4e4"/>
<circle cx="81.07" cy="213.56" r="0.5" fill="#b8c4e4"/>
<circle cx="81.56" cy="214.45" r="0.5" fill="#b8c4e4"/>
<circle cx="82.07" cy="216.41" r="0.5" fill="#b8c4e4"/>
<circle cx="82.59" cy="217.49" r="0.5" fill="#b8c4e4"/>
<circle cx="83.12" cy="219.20" r="0.5" fill="#b8c4e4"/>
<circle cx="83.65" cy="220.12" r="0.5" fill="#b8c4e4"/>
<circle cx="84.20" cy="222.20" r="0.5" fill="#b8c4e4"/>
<circle cx="84.76" cy="223.98" r="0.5" fill="#b8c4e4"/>
<circle cx="85.33" cy="225.07" r="0.5" fill="#b8c4e4"/>
<circle cx="85.91" cy="226.82" r="0.5" fill="#b8c4e4"/>
<circle cx="86.51" cy="228.22" r="0.5" fill="#b8c4e4"/>
<circle cx="87.13" cy="228.96" r="0.5" fill="#b8c4e4"/>
<circle cx="87.76" cy="231.27" r="0.5" fill="#b8c4e4"/>
<circle cx="88.41" cy="232.53" r="0.5" fill="#b8c4e4"/>
<circle cx="89.06" cy="233.64" r="0.5" fill="#b8c4e4"/>
<circle cx="89.74" cy="234.77" r="0.5" fill="#b8c4e4"/>
<circle cx="90.45" cy="237.20" r="0.5" fill="#b8c4e4"/>
<circle cx="91.21" cy="238.14" r="0.5" fill="#b8c4e4"/>
<circle cx="92.03" cy="239.81" r="0.5" fill="#b8c4e4"/>
<circle cx="92.90" cy="241.34" r="0.5" fill="#b8c4e4"/>
<circle cx="93.81" cy="242.46" r="0.5" fill="#b8c4e4"/>
<circle cx="94.75" cy="244.00" r="0.5" fill="#b8c4e4"/>
<circle cx="95.73" cy="244.64" r="0.5" fill="#b8c4e4"/>
<circle cx="96.73" cy="246.37" r="0.5" fill="#b8c4e4"/>
<circle cx="97.77" cy="247.16" r="0.5" fill="#b8c4e4"/>
<circle cx="98.82" cy="248.96" r="0.5" fill="#b8c4e4"/>
<circle cx="99.89" cy="250.08" r="0.5" fill="#b8c4e4"/>
<circle cx="100.97" cy="250.32" r="0.5" fill="#b8c4e4"/>
<circle cx="102.08" cy="251.52" r="0.5" fill="#b8c4e4"/>
<circle cx="103.22" cy="252.74" r="0.5" fill="#b8c4e4"/>
<circle cx="104.40" cy="254.72" r="0.5" fill="#b8c4e4"/>
<circle cx="105.62" cy="255.11" r="0.5" fill="#b8c4e4"/>
<circle cx="106.89" cy="256.32" r="0.5" fill="#b8c4e4"/>
<circle cx="108.19" cy="256.85" r="0.5" fill="#b8c4e4"/>
<circle cx="109.53" cy="257.98" r="0.5" fill="#b8c4e4"/>
<circle cx="110.89" cy="258.67" r="0.5" fill="#b8c4e4"/>
<circle cx="112.28" cy="259.42" r="0.5" fill="#b8c4e4"/>
<circle cx="113.70" cy="260.45" r="0.5" fill="#b8c4e4"/>
<circle cx="115.13" cy="261.17" r="0.5" fill="#b8c4e4"/>
<circle cx="116.57" cy="262.24" r="0.5" fill="#b8c4e4"/>
<circle cx="118.03" cy="262.63" r="0.5" fill="#b8c4e4"/>
<circle cx="119.51" cy="263.54" r="0.5" fill="#b8c4e4"/>
<circle cx="120.99" cy="264.05" r="0.5" fill="#b8c4e4"/>
<circle cx="122.49" cy="264.78" r="0.5" fill="#b8c4e4"/>
<circle cx="123.99" cy="264.96" r="0.5" fill="#b8c4e4"/>
<circle cx="125.48" cy="264.91" r="0.5" fill="#b8c4e4"/>
<circle cx="126.99" cy="266.30" r="0.5" fill="#b8c4e4"/>
<circle cx="128.48" cy="266.99" r="0.5" fill="#b8c4e4"/>
<circle cx="129.98" cy="267.48" r="0.5" fill="#b8c4e4"/>
<circle cx="131.48" cy="267.64" r="0.5" fill="#b8c4e4"/>
<circle cx="132.98" cy="268.37" r="0.5" fill="#b8c4e4"/>
<circle cx="134.48" cy="268.31" r="0.5" fill="#b8c4e4"/>
<circle cx="135.99" cy="269.60" r="0.5" fill="#b8c4e4"/>
<circle cx="137.49" cy="269.84" r="0.5" fill="#b8c4e4"/>
<circle cx="138.99" cy="270.05" r="0.5" fill="#b8c4e4"/>
<circle cx="140.48" cy="270.36" r="0.5" fill="#b8c4e4"/>
<circle cx="141.97" cy="271.91" r="0.5" fill="#b8c4e4"/>
<circle cx="143.43" cy="272.73" r="0.5" fill="#b8c4e4"/>
<circle cx="144.87" cy="272.35" r="0.5" fill="#b8c4e4"/>
<circle cx="146.28" cy="273.94" r="0.5" fill="#b8c4e4"/>
<circle cx="147.70" cy="274.23" r="0.5" fill="#b8c4e4"/>
<circle cx="149.12" cy="274.65" r="0.5" fill="#b8c4e4"/>
<circle cx="150.56" cy="275.51" r="0.5" fill="#b8c4e4"/>
<circle cx="152.01" cy="276.76" r="0.5" fill="#b8c4e4"/>
<circle cx="153.46" cy="277.55" r="0.5" fill="#b8c4e4"/>
<circle cx="154.93" cy="277.20" r="0.5" fill="#b8c4e4"/>
<circle cx="156.40" cy="278.51" r="0.5" fill="#b8c4e4"/>
<circle cx="157.89" cy="278.41" r="0.5" fill="#b8c4e4"/>
<circle cx="159.39" cy="279.77" r="0.5" fill="#b8c4e4"/>
<circle cx="160.91" cy="279.81" r="0.5" fill="#b8c4e4"/>
<circle cx="162.44" cy="280.95" r="0.5" fill="#b8c4e4"/>
<circle cx="163.97" cy="281.52" r="0.5" fill="#b8c4e4"/>
<circle cx="165.51" cy="281.38" r="0.5" fill="#b8c4e4"/>
<circle cx="167.06" cy="282.38" r="0.5" fill="#b8c4e4"/>
<circle cx="168.61" cy="281.95" r="0.5" fill="#b8c4e4"/>
<circle cx="170.18" cy="281.97" r="0.5" fill="#b8c4e4"/>
<circle cx="171.78" cy="282.71" r="0.5" fill="#b8c4e4"/>
<circle cx="173.37" cy="281.97" r="0.5" fill="#b8c4e4"/>
<circle cx="174.96" cy="281.99" r="0.5" fill="#b8c4e4"/>
<circle cx="176.54" cy="282.00" r="0.5" fill="#b8c4e4"/>
<circle cx="178.12" cy="281.97" r="0.5" fill="#b8c4e4"/>
<circle cx="179.70" cy="281.14" r="0.5" fill="#b8c4e4"/>
<circle cx="181.27" cy="280.71" r="0.5" fill="#b8c4e4"/>
<circle cx="182.84" cy="281.39" r="0.5" fill="#b8c4e4"/>
<circle cx="184.40" cy="280.39" r="0.5" fill="#b8c4e4"/>
<circle cx="185.97" cy="280.83" r="0.5" fill="#b8c4e4"/>
<circle cx="187.53" cy="280.44" r="0.5" fill="#b8c4e4"/>
<circle cx="189.11" cy="279.51" r="0.5" fill="#b8c4e4"/>
<circle cx="190.68" cy="279.34" r="0.5" fill="#b8c4e4"/>
<circle cx="192.26" cy="279.17" r="0.5" fill="#b8c4e4"/>
<circle cx="193.85" cy="279.09" r="0.5" fill="#b8c4e4"/>
<circle cx="195.43" cy="278.82" r="0.5" fill="#b8c4e4"/>
<circle cx="197.02" cy="278.59" r="0.5" fill="#b8c4e4"/>
<circle cx="198.61" cy="278.49" r="0.5" fill="#b8c4e4"/>
<circle cx="200.20" cy="278.71" r="0.5" fill="#b8c4e4"/>
<circle cx="201.80" cy="278.04" r="0.5" fill="#b8c4e4"/>
<circle cx="203.39" cy="277.81" r="0.5" fill="#b8c4e4"/>
<circle cx="204.99" cy="278.02" r="0.5" fill="#b8c4e4"/>
<circle cx="206.58" cy="277.31" r="0.5" fill="#b8c4e4"/>
<circle cx="208.18" cy="277.27" r="0.5" fill="#b8c4e4"/>
<circle cx="209.77" cy="277.96" r="0.5" fill="#b8c4e4"/>
<circle cx="211.37" cy="277.29" r="0.5" fill="#b8c4e4"/>
<circle cx="212.96" cy="277.21" r="0.5" fill="#b8c4e4"/>
<circle cx="214.56" cy="276.45" r="0.5" fill="#b8c4e4"/>
<circle cx="216.15" cy="276.82" r="0.5" fill="#b8c4e4"/>
<circle cx="217.75" cy="276.91" r="0.5" fill="#b8c4e4"/>
<circle cx="219.35" cy="276.14" r="0.5" fill="#b8c4e4"/>
<circle cx="220.95" cy="276.77" r="0.5" fill="#b8c4e4"/>
<circle cx="222.54" cy="276.69" r="0.5" fill="#b8c4e4"/>
<circle cx="224.14" cy="275.91" r="0.5" fill="#b8c4e4"/>
<circle cx="225.74" cy="276.49" r="0.5" fill="#b8c4e4"/>
<circle cx="227.33" cy="276.18" r="0.5" fill="#b8c4e4"/>
<circle cx="228.93" cy="276.31" r="0.5" fill="#b8c4e4"/>
<circle cx="230.52" cy="275.77" r="0.5" fill="#b8c4e4"/>
<circle cx="232.11" cy="276.02" r="0.5" fill="#b8c4e4"/>
<circle cx="233.70" cy="275.87" r="0.5" fill="#b8c4e4"/>
<circle cx="235.28" cy="274.79" r="0.5" fill="#b8c4e4"/>
<circle cx="236.86" cy="274.59" r="0.5" fill="#b8c4e4"/>
<circle cx="238.44" cy="275.04" r="0.5" fill="#b8c4e4"/>
<circle cx="240.00" cy="275.05" r="0.5" fill="#b8c4e4"/>
<circle cx="241.56" cy="273.83" r="0.5" fill="#b8c4e4"/>
<circle cx="243.11" cy="273.67" r="0.5" fill="#b8c4e4"/>
<circle cx="244.64" cy="273.37" r="0.5" fill="#b8c4e4"/>
<circle cx="246.15" cy="272.52" r="0.5" fill="#b8c4e4"/>
<circle cx="247.64" cy="271.98" r="0.5" fill="#b8c4e4"/>
<circle cx="249.09" cy="271.25" r="0.5" fill="#b8c4e4"/>
<circle cx="250.50" cy="270.56" r="0.5" fill="#b8c4e4"/>
<circle cx="251.88" cy="270.03" r="0.5" fill="#b8c4e4"/>
<circle cx="253.25" cy="268.84" r="0.5" fill="#b8c4e4"/>
<circle cx="254.61" cy="268.09" r="0.5" fill="#b8c4e4"/>
<path d="M65.76,194.24 L65.91,196.13 L66.04,196.06 L66.62,196.83 L66.53,197.90 L67.11,198.11 L67.16,199.24 L67.73,200.16 L68.01,200.48 L67.94,202.01 L68.52,202.46 L68.35,202.69 L68.74,203.58 L69.12,205.39 L68.91,205.27 L69.46,206.64 L69.60,206.95 L69.34,207.65 L69.87,208.41 L69.72,209.43 L69.88,210.21 L70.30,210.60 L69.86,212.65 L70.50,213.51 L70.34,214.24 L70.75,213.87 L70.76,215.64 L70.84,215.93 L70.74,216.43 L70.83,216.78 L71.17,217.92 L71.43,218.33 L71.61,220.16 L71.74,221.27 L71.85,221.55 L71.44,222.61 L71.66,222.69 L72.08,223.84 L72.06,225.29 L72.31,225.12 L72.23,226.74 L72.49,227.41 L72.55,227.26 L72.81,229.04 L72.73,229.78 L73.33,230.59 L73.43,230.10 L73.47,232.25 L73.29,232.09 L73.58,233.28 L73.85,233.98 L74.23,234.00 L73.99,234.98 L74.21,235.67 L74.92,237.70 L74.58,237.91 L74.92,238.38 L75.15,239.69 L75.50,240.00 L75.47,240.73 L75.64,241.86 L76.21,242.35 L76.05,242.80 L76.45,244.24 L76.93,244.65 L77.17,245.80 L77.19,246.17 L77.48,247.46 L77.69,248.20 L77.99,248.23 L78.31,249.70 L78.32,250.02 L78.83,251.49 L79.45,251.42 L79.74,252.82 L79.69,253.02 L79.95,254.30 L80.62,255.14 L81.06,255.51 L81.40,256.05 L81.40,256.79 L81.73,256.78 L82.59,257.31 L82.60,258.08 L83.50,258.88 L83.44,260.61 L83.95,261.27 L84.75,261.90 L85.40,262.14 L85.78,261.91 L86.26,263.30 L86.71,263.28 L87.23,265.24 L87.31,264.89 L88.11,266.32 L88.42,265.90 L88.95,267.21 L89.79,267.44 L90.11,268.02 L90.67,268.63 L91.08,269.32 L92.19,269.73 L92.64,269.06 L93.19,271.98 L93.78,271.56 L94.27,272.58 L95.14,271.12 L95.30,274.00 L96.44,273.54 L96.82,274.79 L97.35,273.39 L98.07,275.04 L98.87,273.95 L99.83,277.13 L100.34,276.39 L101.17,277.09 L102.03,274.60 L102.57,273.07 L103.49,273.61 L104.08,272.69 L104.94,274.15 L105.60,275.74 L106.57,275.50 L107.34,277.76 L108.32,277.60 L108.89,278.81 L109.90,277.82 L110.62,280.13" stroke="#eba595" stroke-width="0.9" fill="none" />
<path d="M66.20,192.20 L66.41,193.17 L66.70,194.47 L67.05,196.01 L67.43,197.72 L67.83,199.53 L68.22,201.35 L68.58,203.10 L68.90,204.70 L69.17,206.18 L69.42,207.62 L69.66,209.04 L69.88,210.44 L70.10,211.86 L70.32,213.29 L70.55,214.77 L70.80,216.30 L71.06,217.91 L71.33,219.60 L71.60,221.34 L71.87,223.10 L72.15,224.84 L72.44,226.55 L72.72,228.18 L73.00,229.70 L73.28,231.11 L73.55,232.44 L73.82,233.70 L74.09,234.91 L74.37,236.10 L74.67,237.28 L74.97,238.47 L75.30,239.70 L75.64,240.96 L76.00,242.24 L76.36,243.52 L76.74,244.81 L77.14,246.07 L77.54,247.32 L77.96,248.53 L78.40,249.70 L78.85,250.83 L79.32,251.93 L79.80,253.01 L80.29,254.06 L80.80,255.08 L81.32,256.08 L81.86,257.05 L82.40,258.00 L82.97,258.93 L83.57,259.85 L84.19,260.74 L84.83,261.61 L85.45,262.45 L86.07,263.25 L86.65,264.00 L87.20,264.70 L87.70,265.33 L88.15,265.90 L88.58,266.41 L88.99,266.89 L89.40,267.35 L89.83,267.81 L90.29,268.29 L90.80,268.80 L91.36,269.35 L91.96,269.93 L92.59,270.52 L93.24,271.11 L93.89,271.68 L94.55,272.23 L95.18,272.74 L95.80,273.20 L96.37,273.60 L96.90,273.94 L97.40,274.25 L97.91,274.52 L98.44,274.79 L99.01,275.05 L99.66,275.31 L100.40,275.60 L101.29,275.91 L102.32,276.25 L103.45,276.59 L104.61,276.93 L105.76,277.25 L106.82,277.55 L107.76,277.80 L108.50,278.00 L109.06,278.14 L109.48,278.23 L109.78,278.28 L110.01,278.30 L110.16,278.30 L110.28,278.30 L110.39,278.29 L110.50,278.30" stroke="#dc9080" stroke-width="1.3" fill="none" />
<path d="M63.78,200.12 L63.73,201.50 L64.09,202.53 L64.28,202.22 L63.97,202.94 L64.06,204.26 L64.56,205.22 L64.28,205.87 L64.41,205.95 L64.75,206.17 L64.46,207.91 L64.67,207.93 L64.93,209.08 L64.68,209.29 L65.03,210.20 L64.99,211.03 L65.53,211.45 L65.39,211.76 L65.32,213.22 L65.32,214.23 L65.90,213.81 L66.03,214.89 L66.04,216.12 L65.87,216.70 L66.21,217.57 L66.09,218.18 L66.63,218.76 L66.50,218.66 L66.60,219.69 L66.86,220.83 L66.89,220.83 L67.04,222.15 L66.88,223.20 L67.26,222.82 L67.53,223.54 L67.26,225.04 L67.51,225.51 L67.62,226.07 L67.50,226.37 L67.43,227.82 L67.91,228.27 L67.97,228.71 L67.75,229.44 L68.18,229.66 L68.02,230.65 L68.24,231.49 L68.05,232.26 L68.24,233.47 L68.19,234.27 L68.10,234.17 L68.16,234.64 L68.63,236.20 L68.35,236.14 L68.55,237.61 L68.86,238.32 L68.81,238.17 L68.77,238.93 L68.92,240.15 L68.82,240.40 L69.26,240.79 L69.37,242.69 L69.56,242.67 L69.43,243.64 L69.59,244.88 L69.73,244.62 L69.95,245.57 L69.92,246.60 L69.68,247.35 L70.20,247.65 L70.23,248.30 L70.15,249.08 L70.18,249.73 L70.66,250.35 L70.72,251.76 L71.02,251.30 L71.07,252.67 L70.73,252.99 L70.95,253.29 L71.24,255.17 L71.22,255.78 L71.56,255.44 L71.77,256.79 L71.94,257.64 L71.95,257.80 L72.12,259.31 L72.30,259.31 L72.37,260.06 L72.13,260.13 L72.25,261.03 L72.44,262.11 L72.91,263.15 L72.88,264.82 L72.96,263.88 L73.39,264.01 L73.20,269.07 L73.69,265.07 L73.65,267.17 L73.99,265.16 L73.84,265.70 L74.53,265.78 L74.60,266.89 L74.74,267.30 L75.20,267.89 L75.38,267.95 L75.90,271.84 L76.34,268.21 L77.12,272.04 L77.85,269.30 L78.26,272.70 L78.65,278.06 L79.39,270.70 L80.19,271.58 L80.95,273.37 L81.34,270.92 L82.39,272.99 L83.12,274.76 L83.90,273.40 L84.19,273.18 L85.22,276.46 L85.64,271.81 L86.54,279.58 L87.18,271.13 L87.54,271.95 L88.32,271.52 L88.95,276.99 L90.16,273.04 L90.90,275.51 L91.50,279.43 L92.28,271.70 L92.60,276.79 L93.68,272.26 L93.99,279.01 L94.58,275.00 L95.41,277.59 L96.47,273.18 L97.05,278.14 L97.81,276.58 L98.56,274.93 L98.96,273.78 L99.87,276.02 L100.27,273.30 L101.24,277.16 L101.93,275.25 L102.50,273.22 L103.33,272.08 L103.89,278.56 L104.71,272.76 L105.15,279.34 L106.09,279.66 L106.93,275.89 L107.64,278.40 L108.00,275.21 L108.55,275.48 L109.78,272.90 L110.25,272.96 L110.65,277.71" stroke="#c83a5e" stroke-width="0.9" fill="none" />
<path d="M64.50,195.50 L64.66,196.80 L64.88,198.55 L65.14,200.63 L65.43,202.94 L65.73,205.34 L66.04,207.73 L66.33,209.99 L66.60,212.00 L66.85,213.83 L67.11,215.64 L67.37,217.40 L67.62,219.09 L67.87,220.72 L68.10,222.25 L68.31,223.69 L68.50,225.00 L68.66,226.16 L68.79,227.15 L68.90,228.02 L68.99,228.81 L69.08,229.57 L69.18,230.32 L69.28,231.12 L69.40,232.00 L69.53,232.95 L69.67,233.93 L69.82,234.93 L69.97,235.94 L70.12,236.96 L70.28,237.98 L70.44,238.99 L70.60,240.00 L70.76,240.98 L70.93,241.94 L71.09,242.89 L71.26,243.84 L71.44,244.82 L71.62,245.82 L71.80,246.88 L72.00,248.00 L72.21,249.22 L72.42,250.55 L72.65,251.95 L72.88,253.38 L73.11,254.78 L73.35,256.13 L73.58,257.39 L73.80,258.50 L74.01,259.48 L74.22,260.36 L74.43,261.17 L74.63,261.91 L74.84,262.59 L75.05,263.25 L75.27,263.88 L75.50,264.50 L75.74,265.11 L75.99,265.69 L76.25,266.23 L76.51,266.74 L76.77,267.23 L77.04,267.68 L77.32,268.10 L77.60,268.50 L77.88,268.86 L78.16,269.18 L78.45,269.46 L78.74,269.72 L79.04,269.95 L79.35,270.18 L79.67,270.39 L80.00,270.60 L80.30,270.79 L80.56,270.95 L80.80,271.08 L81.07,271.21 L81.39,271.35 L81.79,271.50 L82.32,271.68 L83.00,271.90 L83.87,272.18 L84.92,272.51 L86.10,272.87 L87.36,273.24 L88.65,273.62 L89.94,273.98 L91.17,274.32 L92.30,274.60 L93.35,274.84 L94.37,275.05 L95.37,275.24 L96.34,275.41 L97.29,275.57 L98.22,275.72 L99.12,275.86 L100.00,276.00 L100.86,276.14 L101.69,276.27 L102.51,276.40 L103.29,276.52 L104.06,276.63 L104.80,276.73 L105.51,276.82 L106.20,276.90 L106.88,276.97 L107.57,277.02 L108.24,277.07 L108.89,277.11 L109.48,277.14 L110.01,277.16 L110.46,277.18 L110.80,277.20" stroke="#b5153f" stroke-width="1.25" fill="none" />
<path d="M76.30,199.30 L76.58,200.20 L76.94,201.40 L77.37,202.83 L77.86,204.41 L78.37,206.09 L78.89,207.79 L79.41,209.45 L79.90,211.00 L80.37,212.48 L80.85,213.99 L81.34,215.51 L81.83,217.02 L82.32,218.52 L82.81,219.99 L83.31,221.42 L83.80,222.80 L84.30,224.13 L84.80,225.44 L85.30,226.71 L85.80,227.95 L86.30,229.16 L86.80,230.34 L87.30,231.48 L87.80,232.60 L88.28,233.67 L88.73,234.69 L89.18,235.68 L89.63,236.63 L90.09,237.57 L90.58,238.50 L91.11,239.44 L91.70,240.40 L92.34,241.37 L93.01,242.33 L93.71,243.29 L94.45,244.24 L95.22,245.20 L96.02,246.16 L96.84,247.13 L97.70,248.10 L98.58,249.09 L99.50,250.11 L100.44,251.14 L101.41,252.16 L102.41,253.18 L103.45,254.16 L104.51,255.11 L105.60,256.00 L106.71,256.84 L107.82,257.62 L108.96,258.38 L110.12,259.10 L111.34,259.80 L112.62,260.50 L113.97,261.20 L115.40,261.90 L116.96,262.62 L118.66,263.33 L120.45,264.05 L122.29,264.76 L124.14,265.45 L125.95,266.13 L127.69,266.78 L129.30,267.40 L130.80,268.00 L132.24,268.60 L133.62,269.18 L134.96,269.73 L136.25,270.26 L137.52,270.75 L138.77,271.20 L140.00,271.60 L141.19,271.94 L142.32,272.21 L143.41,272.43 L144.48,272.62 L145.55,272.80 L146.65,272.98 L147.79,273.17 L149.00,273.40 L150.29,273.67 L151.63,273.96 L153.02,274.27 L154.44,274.57 L155.86,274.87 L157.27,275.15 L158.66,275.40 L160.00,275.60 L161.26,275.75 L162.45,275.87 L163.60,275.96 L164.75,276.03 L165.93,276.08 L167.17,276.12 L168.52,276.16 L170.00,276.20 L171.64,276.24 L173.40,276.26 L175.26,276.27 L177.19,276.28 L179.16,276.28 L181.13,276.29 L183.09,276.29 L185.00,276.30 L186.77,276.31 L188.40,276.32 L189.97,276.34 L191.56,276.35 L193.28,276.36 L195.20,276.37 L197.41,276.39 L200.00,276.40 L203.07,276.41 L206.56,276.43 L210.37,276.44 L214.38,276.46 L218.46,276.47 L222.50,276.48 L226.39,276.49 L230.00,276.50 L233.54,276.50 L237.19,276.51 L240.84,276.51 L244.38,276.51 L247.68,276.50 L250.62,276.50 L253.11,276.50 L255.00,276.50" stroke="#8798c8" stroke-width="1.0" fill="none" stroke-dasharray="2.8,1.8"/>
<path d="M76.30,200.00 L76.58,200.93 L76.94,202.16 L77.37,203.62 L77.86,205.25 L78.37,206.97 L78.89,208.72 L79.41,210.42 L79.90,212.00 L80.37,213.52 L80.85,215.05 L81.34,216.60 L81.83,218.14 L82.32,219.66 L82.81,221.15 L83.31,222.61 L83.80,224.00 L84.30,225.34 L84.80,226.65 L85.30,227.92 L85.80,229.15 L86.30,230.35 L86.80,231.53 L87.30,232.68 L87.80,233.80 L88.28,234.88 L88.73,235.92 L89.18,236.92 L89.63,237.90 L90.09,238.86 L90.58,239.83 L91.11,240.80 L91.70,241.80 L92.34,242.81 L93.01,243.83 L93.71,244.86 L94.45,245.88 L95.22,246.91 L96.02,247.94 L96.84,248.97 L97.70,250.00 L98.58,251.05 L99.50,252.12 L100.44,253.20 L101.41,254.28 L102.41,255.34 L103.45,256.37 L104.51,257.36 L105.60,258.30 L106.71,259.18 L107.82,260.00 L108.96,260.79 L110.12,261.55 L111.34,262.29 L112.62,263.02 L113.97,263.75 L115.40,264.50 L116.96,265.27 L118.66,266.05 L120.45,266.83 L122.29,267.60 L124.14,268.35 L125.95,269.08 L127.69,269.77 L129.30,270.40 L130.80,270.99 L132.24,271.56 L133.62,272.09 L134.96,272.59 L136.25,273.06 L137.52,273.48 L138.77,273.86 L140.00,274.20 L141.19,274.48 L142.32,274.69 L143.41,274.86 L144.48,274.99 L145.55,275.09 L146.65,275.19 L147.79,275.29 L149.00,275.40 L150.29,275.52 L151.63,275.64 L153.02,275.76 L154.44,275.86 L155.86,275.96 L157.27,276.05 L158.66,276.13 L160.00,276.20 L161.31,276.26 L162.62,276.30 L163.91,276.33 L165.19,276.35 L166.44,276.37 L167.66,276.38 L168.85,276.39 L170.00,276.40 L171.15,276.41 L172.33,276.41 L173.50,276.41 L174.62,276.41 L175.67,276.41 L176.61,276.40 L177.40,276.40 L178.00,276.40" stroke="#45649f" stroke-width="1.0" fill="none" stroke-dasharray="2.8,1.8"/>
<line x1="316.40" y1="193.80" x2="316.40" y2="284.90" stroke="#1a1a1a" stroke-width="1" />
<line x1="315.90" y1="284.40" x2="512.00" y2="284.40" stroke="#1a1a1a" stroke-width="1" />
<line x1="313.20" y1="282.20" x2="316.40" y2="282.20" stroke="#1a1a1a" stroke-width="1" />
<text x="310.40" y="284.80" font-size="7.9" text-anchor="end" class="tk">0</text>
<line x1="313.20" y1="265.60" x2="316.40" y2="265.60" stroke="#1a1a1a" stroke-width="1" />
<text x="310.40" y="268.20" font-size="7.9" text-anchor="end" class="tk">200</text>
<line x1="313.20" y1="249.00" x2="316.40" y2="249.00" stroke="#1a1a1a" stroke-width="1" />
<text x="310.40" y="251.60" font-size="7.9" text-anchor="end" class="tk">400</text>
<line x1="313.20" y1="232.40" x2="316.40" y2="232.40" stroke="#1a1a1a" stroke-width="1" />
<text x="310.40" y="235.00" font-size="7.9" text-anchor="end" class="tk">600</text>
<line x1="313.20" y1="215.80" x2="316.40" y2="215.80" stroke="#1a1a1a" stroke-width="1" />
<text x="310.40" y="218.40" font-size="7.9" text-anchor="end" class="tk">800</text>
<line x1="313.20" y1="199.20" x2="316.40" y2="199.20" stroke="#1a1a1a" stroke-width="1" />
<text x="310.40" y="201.80" font-size="7.9" text-anchor="end" class="tk">1000</text>
<line x1="318.30" y1="284.40" x2="318.30" y2="287.50" stroke="#1a1a1a" stroke-width="1" />
<text x="318.30" y="297.40" font-size="7.9" text-anchor="middle" class="tk">0</text>
<line x1="356.30" y1="284.40" x2="356.30" y2="287.50" stroke="#1a1a1a" stroke-width="1" />
<text x="356.30" y="297.40" font-size="7.9" text-anchor="middle" class="tk">5</text>
<line x1="394.30" y1="284.40" x2="394.30" y2="287.50" stroke="#1a1a1a" stroke-width="1" />
<text x="394.30" y="297.40" font-size="7.9" text-anchor="middle" class="tk">10</text>
<line x1="432.30" y1="284.40" x2="432.30" y2="287.50" stroke="#1a1a1a" stroke-width="1" />
<text x="432.30" y="297.40" font-size="7.9" text-anchor="middle" class="tk">15</text>
<line x1="470.30" y1="284.40" x2="470.30" y2="287.50" stroke="#1a1a1a" stroke-width="1" />
<text x="470.30" y="297.40" font-size="7.9" text-anchor="middle" class="tk">20</text>
<line x1="508.30" y1="284.40" x2="508.30" y2="287.50" stroke="#1a1a1a" stroke-width="1" />
<text x="508.30" y="297.40" font-size="7.9" text-anchor="middle" class="tk">25</text>
<text class="at" x="400.6" y="310.4" font-size="8.8" fill="#1a1a1a" textLength="26.4" lengthAdjust="spacingAndGlyphs">NO (µM)</text>
<text class="at" x="0" y="0" font-size="8.8" fill="#1a1a1a" textLength="59.5" lengthAdjust="spacingAndGlyphs" transform="translate(285.6,269.3) rotate(-90)">k<tspan font-size="5.4" dy="1.6">ox,NO</tspan><tspan dy="-1.6"> apparent (</tspan><tspan font-style="italic">s</tspan><tspan font-size="5.4" dy="-2.6">-1</tspan><tspan dy="2.6">)</tspan></text>
<line x1="318.80" y1="282.20" x2="508.30" y2="207.50" stroke="#c0284e" stroke-width="1.2" />
<line x1="318.80" y1="282.20" x2="508.30" y2="248.58" stroke="#3b5d9a" stroke-width="1.2" stroke-dasharray="3.2,2"/>
<line x1="414.30" y1="235.60" x2="414.30" y2="252.40" stroke="#222" stroke-width="0.9" />
<line x1="412.80" y1="235.60" x2="415.80" y2="235.60" stroke="#222" stroke-width="0.9" />
<line x1="412.80" y1="252.40" x2="415.80" y2="252.40" stroke="#222" stroke-width="0.9" />
<line x1="414.30" y1="256.80" x2="414.30" y2="270.50" stroke="#222" stroke-width="0.9" />
<line x1="412.80" y1="256.80" x2="415.80" y2="256.80" stroke="#222" stroke-width="0.9" />
<line x1="412.80" y1="270.50" x2="415.80" y2="270.50" stroke="#222" stroke-width="0.9" />
<line x1="508.10" y1="194.60" x2="508.10" y2="222.00" stroke="#222" stroke-width="0.9" />
<line x1="506.60" y1="194.60" x2="509.60" y2="194.60" stroke="#222" stroke-width="0.9" />
<line x1="506.60" y1="222.00" x2="509.60" y2="222.00" stroke="#222" stroke-width="0.9" />
<line x1="508.10" y1="244.90" x2="508.10" y2="263.80" stroke="#222" stroke-width="0.9" />
<line x1="506.60" y1="244.90" x2="509.60" y2="244.90" stroke="#222" stroke-width="0.9" />
<line x1="506.60" y1="263.80" x2="509.60" y2="263.80" stroke="#222" stroke-width="0.9" />
<circle cx="414.30" cy="243.70" r="2.05" fill="#fff" stroke="#c0284e" stroke-width="1.1"/>
<circle cx="508.10" cy="208.30" r="2.05" fill="#fff" stroke="#c0284e" stroke-width="1.1"/>
<path d="M411.20,265.50 L417.40,265.50 L414.30,260.50 Z" fill="#2b4e8c" stroke="#111" stroke-width="0.8"/>
<path d="M505.00,257.30 L511.20,257.30 L508.10,252.30 Z" fill="#2b4e8c" stroke="#111" stroke-width="0.8"/>
<path d="M315.70,284.30 L321.90,284.30 L318.80,279.30 Z" fill="#2b4e8c" stroke="#111" stroke-width="0.8"/>
<text x="318.80" y="211.50" font-size="7.9" text-anchor="start" textLength="15" lengthAdjust="spacingAndGlyphs" >Data</text>
<text x="342.40" y="211.50" font-size="7.9" text-anchor="start" textLength="7.6" lengthAdjust="spacingAndGlyphs" >Fit</text>
<circle cx="325.50" cy="219.50" r="2.05" fill="#fff" stroke="#c0284e" stroke-width="1.1"/>
<line x1="338.20" y1="219.50" x2="355.50" y2="219.50" stroke="#c0284e" stroke-width="1.2" />
<text x="357.80" y="221.90" font-size="7.9" text-anchor="start" textLength="9.8" lengthAdjust="spacingAndGlyphs" >Hb</text>
<path d="M322.40,234.00 L328.60,234.00 L325.50,229.00 Z" fill="#2b4e8c" stroke="#111" stroke-width="0.8"/>
<line x1="338.20" y1="231.80" x2="355.50" y2="231.80" stroke="#8197c6" stroke-width="1.3" stroke-dasharray="3,1.8"/>
<text x="357.80" y="234.10" font-size="7.9" text-anchor="start" textLength="23.2" lengthAdjust="spacingAndGlyphs" >PolyHb</text>
<line x1="59.30" y1="350.50" x2="59.30" y2="445.80" stroke="#1a1a1a" stroke-width="1" />
<line x1="58.80" y1="445.30" x2="251.30" y2="445.30" stroke="#1a1a1a" stroke-width="1" />
<line x1="56.20" y1="444.40" x2="59.30" y2="444.40" stroke="#1a1a1a" stroke-width="1" />
<text x="53.40" y="447.00" font-size="7.9" text-anchor="end" class="tk">0</text>
<line x1="56.20" y1="428.99" x2="59.30" y2="428.99" stroke="#1a1a1a" stroke-width="1" />
<text x="53.40" y="431.59" font-size="7.9" text-anchor="end" class="tk">20</text>
<line x1="56.20" y1="413.58" x2="59.30" y2="413.58" stroke="#1a1a1a" stroke-width="1" />
<text x="53.40" y="416.18" font-size="7.9" text-anchor="end" class="tk">40</text>
<line x1="56.20" y1="398.17" x2="59.30" y2="398.17" stroke="#1a1a1a" stroke-width="1" />
<text x="53.40" y="400.77" font-size="7.9" text-anchor="end" class="tk">60</text>
<line x1="56.20" y1="382.76" x2="59.30" y2="382.76" stroke="#1a1a1a" stroke-width="1" />
<text x="53.40" y="385.36" font-size="7.9" text-anchor="end" class="tk">80</text>
<line x1="56.20" y1="367.35" x2="59.30" y2="367.35" stroke="#1a1a1a" stroke-width="1" />
<text x="53.40" y="369.95" font-size="7.9" text-anchor="end" class="tk">100</text>
<line x1="56.20" y1="351.94" x2="59.30" y2="351.94" stroke="#1a1a1a" stroke-width="1" />
<text x="53.40" y="354.54" font-size="7.9" text-anchor="end" class="tk">120</text>
<rect x="94.3" y="428.7" width="8.00" height="16.10" fill="#64a2dc"/>
<rect x="103.5" y="399.8" width="7.90" height="45.00" fill="#64a2dc"/>
<rect x="112.7" y="369.0" width="8.20" height="75.80" fill="#64a2dc"/>
<rect x="122.1" y="384.0" width="8.10" height="60.80" fill="#64a2dc"/>
<rect x="131.4" y="413.0" width="8.10" height="31.80" fill="#64a2dc"/>
<line x1="61.90" y1="445.30" x2="61.90" y2="448.10" stroke="#1a1a1a" stroke-width="1" />
<line x1="104.75" y1="445.30" x2="104.75" y2="448.10" stroke="#1a1a1a" stroke-width="1" />
<line x1="129.82" y1="445.30" x2="129.82" y2="448.10" stroke="#1a1a1a" stroke-width="1" />
<line x1="147.60" y1="445.30" x2="147.60" y2="448.10" stroke="#1a1a1a" stroke-width="1" />
<line x1="161.40" y1="445.30" x2="161.40" y2="448.10" stroke="#1a1a1a" stroke-width="1" />
<line x1="172.67" y1="445.30" x2="172.67" y2="448.10" stroke="#1a1a1a" stroke-width="1" />
<line x1="182.20" y1="445.30" x2="182.20" y2="448.10" stroke="#1a1a1a" stroke-width="1" />
<line x1="190.45" y1="445.30" x2="190.45" y2="448.10" stroke="#1a1a1a" stroke-width="1" />
<line x1="197.74" y1="445.30" x2="197.74" y2="448.10" stroke="#1a1a1a" stroke-width="1" />
<line x1="204.25" y1="445.30" x2="204.25" y2="448.10" stroke="#1a1a1a" stroke-width="1" />
<line x1="247.10" y1="445.30" x2="247.10" y2="448.10" stroke="#1a1a1a" stroke-width="1" />
<text x="61.90" y="458.60" font-size="7.9" text-anchor="middle" class="tk">10</text>
<text x="104.75" y="457.40" font-size="7.9" text-anchor="middle" class="tk">2</text>
<text x="129.82" y="457.40" font-size="7.9" text-anchor="middle" class="tk">3</text>
<text x="147.60" y="457.40" font-size="7.9" text-anchor="middle" class="tk">4</text>
<text x="161.40" y="457.40" font-size="7.9" text-anchor="middle" class="tk">5</text>
<text x="172.67" y="457.40" font-size="7.9" text-anchor="middle" class="tk">6</text>
<text x="182.20" y="457.40" font-size="7.9" text-anchor="middle" class="tk">7</text>
<text x="190.45" y="457.40" font-size="7.9" text-anchor="middle" class="tk">8</text>
<text x="204.25" y="458.20" font-size="7.9" text-anchor="middle" class="tk">100</text>
<text x="247.10" y="457.40" font-size="7.9" text-anchor="middle" class="tk">2</text>
<text x="133.60" y="471.30" font-size="8.7" text-anchor="start" textLength="42.6" lengthAdjust="spacingAndGlyphs" class="at">Diameter (nm)</text>
<text class="at" x="0" y="0" font-size="9.2" text-anchor="middle" font-weight="normal" textLength="57.8" lengthAdjust="spacingAndGlyphs" transform="translate(33.60,398.30) rotate(-90)">Normalized intensity</text>
<rect x="292.8" y="348.30" width="220.20" height="10.95" fill="#c9cadd"/>
<rect x="292.8" y="370.20" width="220.20" height="10.95" fill="#c9cadd"/>
<rect x="292.8" y="392.10" width="220.20" height="10.95" fill="#c9cadd"/>
<rect x="292.8" y="414.00" width="220.20" height="10.95" fill="#c9cadd"/>
<rect x="292.8" y="435.90" width="220.20" height="10.95" fill="#c9cadd"/>
<rect x="292.8" y="337.5" width="220.20" height="120.30" fill="none" stroke="#333" stroke-width="1.3"/>
<line x1="292.80" y1="348.30" x2="513.00" y2="348.30" stroke="#2a2a2a" stroke-width="1.2" />
<line x1="400.10" y1="337.50" x2="400.10" y2="457.80" stroke="#3a3a3a" stroke-width="1.2" />
<line x1="454.20" y1="337.50" x2="454.20" y2="457.80" stroke="#3a3a3a" stroke-width="1.2" />
<text x="295.00" y="345.70" font-size="7.6" text-anchor="start" font-weight="bold" class="tb">Parameters</text>
<text x="427.15" y="345.70" font-size="7.6" text-anchor="middle" font-weight="bold" class="tb">Hb</text>
<text x="481.40" y="345.70" font-size="7.6" text-anchor="middle" font-weight="bold" class="tb">PolyHb</text>
<text x="295.00" y="356.80" font-size="7.6" text-anchor="start" font-weight="bold" class="tb">Concentration (mg/mL)</text>
<rect x="426.6" y="353.80" width="1.9" height="0.9" fill="#333"/>
<text x="479.80" y="356.80" font-size="7.9" text-anchor="middle" class="tk">101 ± 2.3</text>
<text x="295.00" y="367.75" font-size="7.6" text-anchor="start" font-weight="bold" class="tb">MetHb Level (%)</text>
<text x="427.50" y="367.75" font-size="7.9" text-anchor="middle" class="tk">1.2 ± 0.2</text>
<text x="479.80" y="367.75" font-size="7.9" text-anchor="middle" class="tk">5.3 ± 0.2</text>
<text x="295.00" y="378.70" font-size="7.6" text-anchor="start" font-weight="bold" class="tb">Diameter (nm)</text>
<text x="427.50" y="378.70" font-size="7.9" text-anchor="middle" class="tk">5.5</text>
<text x="479.80" y="378.70" font-size="7.9" text-anchor="middle" class="tk">25.1 ± 0.7</text>
<text x="295.00" y="389.65" font-size="7.6" text-anchor="start" font-weight="bold" class="tb">PDI</text>
<rect x="426.6" y="386.65" width="1.9" height="0.9" fill="#333"/>
<text x="479.80" y="389.65" font-size="7.9" text-anchor="middle" class="tk">0.10 ± 0.01</text>
<text x="295.00" y="400.60" font-size="7.6" text-anchor="start" font-weight="bold" class="tb">Estimated MW (kDa)</text>
<text x="427.50" y="400.60" font-size="7.9" text-anchor="middle" class="tk">64 ± 1</text>
<text x="479.80" y="400.60" font-size="7.9" text-anchor="middle" class="tk">480 ± 70</text>
<text x="295.00" y="411.55" font-size="7.6" text-anchor="start" font-weight="bold" class="tb">Viscosity (cP)</text>
<text x="427.50" y="411.55" font-size="7.9" text-anchor="middle" class="tk">1.9 ± 0.1</text>
<text x="479.80" y="411.55" font-size="7.9" text-anchor="middle" class="tk">2.8 ± 0.3</text>
<text class="tb" x="295.0" y="422.50" font-size="7.6" font-weight="bold">P<tspan font-size="5.6" dy="1.8">50</tspan><tspan dy="-1.8"> (mmHg)</tspan></text>
<text x="427.50" y="422.50" font-size="7.9" text-anchor="middle" class="tk">12.4 ± 1.3</text>
<text x="479.80" y="422.50" font-size="7.9" text-anchor="middle" class="tk">31.1 ± 0.5</text>
<text x="295.00" y="433.45" font-size="7.6" text-anchor="start" font-weight="bold" class="tb">n</text>
<text x="427.50" y="433.45" font-size="7.9" text-anchor="middle" class="tk">2.51 ± 0.06</text>
<text x="479.80" y="433.45" font-size="7.9" text-anchor="middle" class="tk">0.98 ± 0.2</text>
<text class="tb" x="295.0" y="444.40" font-size="7.6" font-weight="bold">k<tspan font-size="5.6" dy="1.9">off,O2</tspan><tspan dy="-1.9"> (s</tspan><tspan font-size="5.6" dy="-2.9">-1</tspan><tspan dy="2.9">)</tspan></text>
<text x="427.50" y="444.40" font-size="7.9" text-anchor="middle" class="tk">41.0 ± 5.12</text>
<text x="479.80" y="444.40" font-size="7.9" text-anchor="middle" class="tk">48.1 ± 1.2</text>
<text class="tb" x="295.0" y="455.35" font-size="7.6" font-weight="bold">k<tspan font-size="5.6" dy="1.9">ox,NO</tspan><tspan dy="-1.9"> (µM</tspan><tspan font-size="5.6" dy="-2.9">-1</tspan><tspan dy="2.9"> s</tspan><tspan font-size="5.6" dy="-2.9">-1</tspan><tspan dy="2.9">)</tspan></text>
<text x="427.50" y="455.35" font-size="7.9" text-anchor="middle" class="tk">36.0 ± 6.1</text>
<text x="479.80" y="455.35" font-size="7.9" text-anchor="middle" class="tk">14.8 ± 0.8</text>
<rect x="0.5" y="0.5" width="519" height="480" fill="none" stroke="#000" stroke-width="1.2"/>
</svg>
</body></html>
